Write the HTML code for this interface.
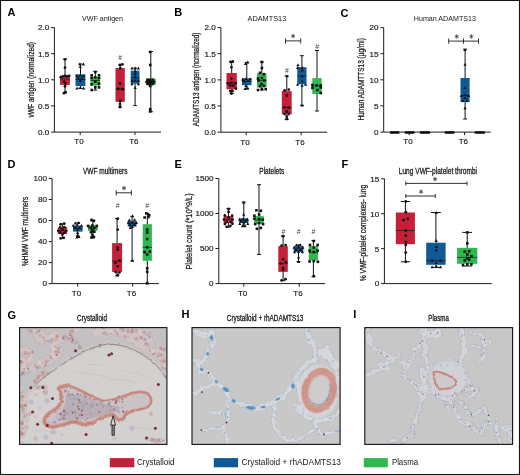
<!DOCTYPE html>
<html><head><meta charset="utf-8"><title>Figure</title>
<style>html,body{margin:0;padding:0;background:#fff;overflow:hidden}svg{display:block}</style>
</head><body>
<svg width="520" height="475" viewBox="0 0 520 475" font-family="'Liberation Sans', sans-serif" fill="#161616">
<rect x="0" y="0" width="520" height="475" fill="#fff"/>
<defs><filter id="idt" filterUnits="userSpaceOnUse" x="0" y="0" width="520" height="475" color-interpolation-filters="sRGB"><feOffset dx="0" dy="0"/></filter></defs>
<g filter="url(#idt)">
<text x="7.6" y="16.4" font-size="11" font-weight="bold" fill="#000">A</text>
<text x="82" y="21.2" font-size="7.2" textLength="41.0" lengthAdjust="spacingAndGlyphs">VWF antigen</text>
<text transform="translate(33.6,117.5) rotate(-90)" font-size="8.6" textLength="75.5" lengthAdjust="spacingAndGlyphs" stroke="#1c1c1c" stroke-width="0.25">vWF antigen (normalized)</text>
<path d="M54.4 27.5V132.1H161M51.1 27.6H54.4M51.1 53.7H54.4M51.1 79.8H54.4M51.1 105.9H54.4M51.1 132.1H54.4M80.2 132.1v3M135.0 132.1v3" stroke="#1c1c1c" stroke-width="1" fill="none"/>
<text x="49.2" y="30.4" text-anchor="end" font-size="8.1" stroke="#1c1c1c" stroke-width="0.18">2.0</text>
<text x="49.2" y="56.5" text-anchor="end" font-size="8.1" stroke="#1c1c1c" stroke-width="0.18">1.5</text>
<text x="49.2" y="82.6" text-anchor="end" font-size="8.1" stroke="#1c1c1c" stroke-width="0.18">1.0</text>
<text x="49.2" y="108.7" text-anchor="end" font-size="8.1" stroke="#1c1c1c" stroke-width="0.18">0.5</text>
<text x="49.2" y="134.9" text-anchor="end" font-size="8.1" stroke="#1c1c1c" stroke-width="0.18">0.0</text>
<text x="79.0" y="144.4" text-anchor="middle" font-size="8" stroke="#1c1c1c" stroke-width="0.15">T0</text>
<text x="133.8" y="144.4" text-anchor="middle" font-size="8" stroke="#1c1c1c" stroke-width="0.15">T6</text>
<rect x="60.0" y="75.8" width="9.9" height="9.1" fill="#c5203a"/><path d="M65.0 59.2V75.8M65.0 84.9V93.0M62.9 59.2H67.0M62.9 93.0H67.0" stroke="#111" stroke-width="1" fill="none"/><path d="M60.0 79.0H69.9" stroke="#1a1a1a" stroke-width="0.7" fill="none"/><g fill="#111"><circle cx="65.0" cy="59.3" r="1.38"/><circle cx="65.0" cy="67.7" r="1.38"/><circle cx="60.8" cy="77.2" r="1.38"/><circle cx="62.9" cy="76.3" r="1.38"/><circle cx="65.0" cy="75.8" r="1.38"/><circle cx="67.1" cy="76.3" r="1.38"/><circle cx="69.2" cy="75.8" r="1.38"/><circle cx="64.0" cy="81.6" r="1.38"/><circle cx="65.6" cy="83.7" r="1.38"/><circle cx="65.0" cy="86.3" r="1.38"/><circle cx="65.6" cy="92.1" r="1.38"/><circle cx="64.0" cy="93.2" r="1.38"/></g>
<rect x="75.5" y="74.3" width="9.9" height="11.7" fill="#0f5a96"/><path d="M80.5 64.0V74.3M80.5 86.0V88.3M78.4 64.0H82.5M78.4 88.3H82.5" stroke="#111" stroke-width="1" fill="none"/><path d="M75.5 79.5H85.4" stroke="#1a1a1a" stroke-width="0.7" fill="none"/><g fill="#111"><path d="M79.9 62.6L81.5 65.5L78.3 65.5Z"/><path d="M83.4 62.6L85.0 65.5L81.8 65.5Z"/><path d="M80.3 65.2L81.9 68.1L78.7 68.1Z"/><path d="M77.0 74.2L78.6 77.1L75.4 77.1Z"/><path d="M80.3 73.7L81.9 76.6L78.7 76.6Z"/><path d="M83.6 74.2L85.2 77.1L82.0 77.1Z"/><path d="M78.4 76.6L80.0 79.5L76.8 79.5Z"/><path d="M82.0 76.8L83.6 79.7L80.4 79.7Z"/><path d="M80.3 79.2L81.9 82.1L78.7 82.1Z"/><path d="M77.0 86.6L78.6 89.5L75.4 89.5Z"/><path d="M80.3 86.2L81.9 89.1L78.7 89.1Z"/><path d="M83.6 86.6L85.2 89.5L82.0 89.5Z"/></g>
<rect x="90.5" y="76.8" width="9.6" height="8.9" fill="#2fb84f"/><path d="M95.3 71.4V76.8M95.3 85.7V90.1M93.3 71.4H97.3M93.3 90.1H97.3" stroke="#111" stroke-width="1" fill="none"/><path d="M90.5 80.5H100.1" stroke="#1a1a1a" stroke-width="0.7" fill="none"/><g fill="#111"><rect x="94.0" y="70.8" width="2.6" height="2.6"/><rect x="90.4" y="74.0" width="2.6" height="2.6"/><rect x="97.7" y="74.0" width="2.6" height="2.6"/><rect x="90.4" y="76.7" width="2.6" height="2.6"/><rect x="94.0" y="76.1" width="2.6" height="2.6"/><rect x="97.7" y="76.7" width="2.6" height="2.6"/><rect x="94.0" y="80.3" width="2.6" height="2.6"/><rect x="90.4" y="82.9" width="2.6" height="2.6"/><rect x="97.7" y="82.4" width="2.6" height="2.6"/><rect x="94.0" y="86.1" width="2.6" height="2.6"/><rect x="97.7" y="86.1" width="2.6" height="2.6"/><rect x="90.4" y="88.7" width="2.6" height="2.6"/></g>
<rect x="115.5" y="68.0" width="9.3" height="33.9" fill="#c5203a"/><path d="M120.2 65.0V68.0M120.2 101.9V107.0M118.2 65.0H122.1M118.2 107.0H122.1" stroke="#111" stroke-width="1" fill="none"/><path d="M115.5 89.0H124.8" stroke="#1a1a1a" stroke-width="0.7" fill="none"/><g fill="#111"><circle cx="120.0" cy="65.0" r="1.38"/><circle cx="122.4" cy="64.3" r="1.38"/><circle cx="120.2" cy="68.3" r="1.38"/><circle cx="120.0" cy="83.6" r="1.38"/><circle cx="118.1" cy="89.0" r="1.38"/><circle cx="122.5" cy="89.2" r="1.38"/><circle cx="120.3" cy="101.0" r="1.38"/><circle cx="120.0" cy="104.0" r="1.38"/><circle cx="120.0" cy="107.0" r="1.38"/></g>
<rect x="130.7" y="70.7" width="8.8" height="13.1" fill="#0f5a96"/><path d="M135.1 68.0V70.7M135.1 83.8V105.6M133.3 68.0H136.9M133.3 105.6H136.9" stroke="#111" stroke-width="1" fill="none"/><path d="M130.7 78.0H139.5" stroke="#1a1a1a" stroke-width="0.7" fill="none"/><g fill="#111"><path d="M132.0 66.6L133.6 69.5L130.4 69.5Z"/><path d="M135.2 66.6L136.8 69.5L133.6 69.5Z"/><path d="M138.4 66.6L140.0 69.5L136.8 69.5Z"/><path d="M135.2 69.6L136.8 72.5L133.6 72.5Z"/><path d="M135.2 72.2L136.8 75.1L133.6 75.1Z"/><path d="M135.2 75.1L136.8 78.0L133.6 78.0Z"/><path d="M132.0 78.8L133.6 81.7L130.4 81.7Z"/><path d="M135.2 78.8L136.8 81.7L133.6 81.7Z"/><path d="M138.4 78.8L140.0 81.7L136.8 81.7Z"/><path d="M132.0 82.4L133.6 85.3L130.4 85.3Z"/><path d="M138.4 82.4L140.0 85.3L136.8 85.3Z"/><path d="M135.2 86.2L136.8 89.1L133.6 89.1Z"/></g>
<rect x="146.0" y="78.6" width="9.7" height="6.4" fill="#2fb84f"/><path d="M150.8 51.5V78.6M150.8 85.0V111.7M148.8 51.5H152.9M148.8 111.7H152.9" stroke="#111" stroke-width="1" fill="none"/><path d="M146.0 81.5H155.7" stroke="#1a1a1a" stroke-width="0.7" fill="none"/><g fill="#111"><rect x="148.9" y="50.7" width="2.6" height="2.6"/><rect x="148.9" y="63.7" width="2.6" height="2.6"/><rect x="146.3" y="78.5" width="2.6" height="2.6"/><rect x="148.9" y="78.5" width="2.6" height="2.6"/><rect x="151.5" y="78.5" width="2.6" height="2.6"/><rect x="145.3" y="80.7" width="2.6" height="2.6"/><rect x="147.7" y="80.7" width="2.6" height="2.6"/><rect x="150.1" y="80.7" width="2.6" height="2.6"/><rect x="152.5" y="80.7" width="2.6" height="2.6"/><rect x="146.5" y="82.7" width="2.6" height="2.6"/><rect x="148.9" y="82.7" width="2.6" height="2.6"/><rect x="151.3" y="82.7" width="2.6" height="2.6"/><rect x="148.9" y="84.7" width="2.6" height="2.6"/><rect x="148.9" y="107.9" width="2.6" height="2.6"/><rect x="148.9" y="110.1" width="2.6" height="2.6"/></g>
<text x="120.0" y="60.4" text-anchor="middle" font-size="6.6" font-style="italic" fill="#3a3a3a">#</text>
<text x="174.3" y="16.4" font-size="11" font-weight="bold" fill="#000">B</text>
<text x="247.5" y="20.8" font-size="7.2" textLength="38.8" lengthAdjust="spacingAndGlyphs">ADAMTS13</text>
<text transform="translate(198.6,126.2) rotate(-90)" font-size="8.6" textLength="93.6" lengthAdjust="spacingAndGlyphs" stroke="#1c1c1c" stroke-width="0.25">ADAMTS13 antigen (normalized)</text>
<path d="M220.9 27.5V132.2H327.2M217.6 27.6H220.9M217.6 53.7H220.9M217.6 79.9H220.9M217.6 106.0H220.9M217.6 132.2H220.9M246.2 132.2v3M301.2 132.2v3" stroke="#1c1c1c" stroke-width="1" fill="none"/>
<text x="215.7" y="30.4" text-anchor="end" font-size="8.1" stroke="#1c1c1c" stroke-width="0.18">2.0</text>
<text x="215.7" y="56.5" text-anchor="end" font-size="8.1" stroke="#1c1c1c" stroke-width="0.18">1.5</text>
<text x="215.7" y="82.7" text-anchor="end" font-size="8.1" stroke="#1c1c1c" stroke-width="0.18">1.0</text>
<text x="215.7" y="108.8" text-anchor="end" font-size="8.1" stroke="#1c1c1c" stroke-width="0.18">0.5</text>
<text x="215.7" y="135.0" text-anchor="end" font-size="8.1" stroke="#1c1c1c" stroke-width="0.18">0.0</text>
<text x="245.0" y="144.5" text-anchor="middle" font-size="8" stroke="#1c1c1c" stroke-width="0.15">T0</text>
<text x="300.0" y="144.5" text-anchor="middle" font-size="8" stroke="#1c1c1c" stroke-width="0.15">T6</text>
<rect x="226.5" y="73.0" width="10.3" height="16.2" fill="#c5203a"/><path d="M231.7 62.0V73.0M231.7 89.2V93.6M229.5 62.0H233.8M229.5 93.6H233.8" stroke="#111" stroke-width="1" fill="none"/><path d="M226.5 82.5H236.8" stroke="#1a1a1a" stroke-width="0.7" fill="none"/><g fill="#111"><circle cx="230.5" cy="61.9" r="1.38"/><circle cx="232.8" cy="61.5" r="1.38"/><circle cx="231.4" cy="67.3" r="1.38"/><circle cx="231.4" cy="78.6" r="1.38"/><circle cx="227.8" cy="83.4" r="1.38"/><circle cx="231.4" cy="82.9" r="1.38"/><circle cx="235.5" cy="83.4" r="1.38"/><circle cx="230.2" cy="85.6" r="1.38"/><circle cx="233.1" cy="85.6" r="1.38"/><circle cx="235.9" cy="88.7" r="1.38"/><circle cx="230.2" cy="91.0" r="1.38"/><circle cx="232.6" cy="90.8" r="1.38"/><circle cx="231.4" cy="93.5" r="1.38"/></g>
<rect x="242.0" y="78.2" width="9.5" height="7.0" fill="#0f5a96"/><path d="M246.8 62.4V78.2M246.8 85.2V88.9M244.8 62.4H248.7M244.8 88.9H248.7" stroke="#111" stroke-width="1" fill="none"/><path d="M242.0 81.5H251.5" stroke="#1a1a1a" stroke-width="0.7" fill="none"/><g fill="#111"><path d="M245.6 62.0L247.2 64.9L244.0 64.9Z"/><path d="M247.8 60.6L249.4 63.5L246.2 63.5Z"/><path d="M242.7 77.8L244.3 80.7L241.1 80.7Z"/><path d="M246.0 77.0L247.6 79.9L244.4 79.9Z"/><path d="M250.4 77.4L252.0 80.3L248.8 80.3Z"/><path d="M244.3 79.4L245.9 82.3L242.7 82.3Z"/><path d="M248.0 79.2L249.6 82.1L246.4 82.1Z"/><path d="M246.0 84.0L247.6 86.9L244.4 86.9Z"/><path d="M245.1 87.1L246.7 90.0L243.5 90.0Z"/><path d="M247.8 86.6L249.4 89.5L246.2 89.5Z"/></g>
<rect x="257.0" y="73.3" width="9.6" height="14.1" fill="#2fb84f"/><path d="M261.8 62.0V73.3M261.8 87.4V89.9M259.8 62.0H263.8M259.8 89.9H263.8" stroke="#111" stroke-width="1" fill="none"/><path d="M257.0 80.5H266.6" stroke="#1a1a1a" stroke-width="0.7" fill="none"/><g fill="#111"><rect x="260.6" y="60.7" width="2.6" height="2.6"/><rect x="260.6" y="66.7" width="2.6" height="2.6"/><rect x="258.7" y="71.5" width="2.6" height="2.6"/><rect x="262.5" y="72.9" width="2.6" height="2.6"/><rect x="256.7" y="77.3" width="2.6" height="2.6"/><rect x="260.6" y="76.7" width="2.6" height="2.6"/><rect x="257.2" y="79.2" width="2.6" height="2.6"/><rect x="263.0" y="79.2" width="2.6" height="2.6"/><rect x="260.1" y="82.5" width="2.6" height="2.6"/><rect x="258.7" y="84.9" width="2.6" height="2.6"/><rect x="262.5" y="84.5" width="2.6" height="2.6"/><rect x="256.7" y="88.7" width="2.6" height="2.6"/><rect x="260.6" y="87.9" width="2.6" height="2.6"/><rect x="264.4" y="87.9" width="2.6" height="2.6"/></g>
<rect x="281.8" y="91.1" width="9.9" height="23.1" fill="#c5203a"/><path d="M286.8 76.2V91.1M286.8 114.2V119.4M284.7 76.2H288.8M284.7 119.4H288.8" stroke="#111" stroke-width="1" fill="none"/><path d="M281.8 107.6H291.7" stroke="#1a1a1a" stroke-width="0.7" fill="none"/><g fill="#111"><circle cx="286.8" cy="76.2" r="1.38"/><circle cx="284.6" cy="90.4" r="1.38"/><circle cx="288.8" cy="89.6" r="1.38"/><circle cx="286.8" cy="95.5" r="1.38"/><circle cx="284.6" cy="107.3" r="1.38"/><circle cx="288.8" cy="107.6" r="1.38"/><circle cx="286.8" cy="111.5" r="1.38"/><circle cx="284.6" cy="114.0" r="1.38"/><circle cx="288.8" cy="114.0" r="1.38"/><circle cx="286.8" cy="116.6" r="1.38"/><circle cx="286.8" cy="119.0" r="1.38"/></g>
<rect x="297.3" y="67.2" width="9.2" height="17.1" fill="#0f5a96"/><path d="M301.9 55.7V67.2M301.9 84.3V105.4M300.0 55.7H303.8M300.0 105.4H303.8" stroke="#111" stroke-width="1" fill="none"/><path d="M297.3 76.0H306.5" stroke="#1a1a1a" stroke-width="0.7" fill="none"/><g fill="#111"><path d="M298.0 63.3L299.6 66.2L296.4 66.2Z"/><path d="M297.6 66.1L299.2 69.0L296.0 69.0Z"/><path d="M302.2 66.1L303.8 69.0L300.6 69.0Z"/><path d="M302.2 68.7L303.8 71.6L300.6 71.6Z"/><path d="M302.2 74.4L303.8 77.3L300.6 77.3Z"/><path d="M302.2 79.4L303.8 82.3L300.6 82.3Z"/><path d="M297.6 82.9L299.2 85.8L296.0 85.8Z"/><path d="M305.6 82.9L307.2 85.8L304.0 85.8Z"/><path d="M302.2 83.9L303.8 86.8L300.6 86.8Z"/><path d="M302.2 103.7L303.8 106.6L300.6 106.6Z"/></g>
<rect x="312.3" y="78.1" width="9.3" height="15.9" fill="#2fb84f"/><path d="M317.0 50.5V78.1M317.0 94.0V111.0M315.0 50.5H318.9M315.0 111.0H318.9" stroke="#111" stroke-width="1" fill="none"/><path d="M312.3 86.0H321.6" stroke="#1a1a1a" stroke-width="0.7" fill="none"/><g fill="#111"><rect x="311.1" y="83.7" width="2.6" height="2.6"/><rect x="315.3" y="84.1" width="2.6" height="2.6"/><rect x="319.5" y="84.1" width="2.6" height="2.6"/><rect x="311.1" y="86.6" width="2.6" height="2.6"/><rect x="319.5" y="86.1" width="2.6" height="2.6"/><rect x="316.1" y="88.8" width="2.6" height="2.6"/><rect x="319.5" y="91.7" width="2.6" height="2.6"/></g>
<path d="M285.5 40.9H300.7M285.5 38.3v5.2M300.7 38.3v5.2" stroke="#1c1c1c" stroke-width="0.9" fill="none"/>
<path d="M293.10 33.85L293.10 38.35M291.15 34.98L295.05 37.23M295.05 34.98L291.15 37.23" stroke="#2a2a2a" stroke-width="0.75" fill="none"/>
<text x="286.8" y="73.1" text-anchor="middle" font-size="6.6" font-style="italic" fill="#3a3a3a">#</text>
<text x="317.0" y="48.5" text-anchor="middle" font-size="6.6" font-style="italic" fill="#3a3a3a">#</text>
<text x="340.4" y="16.6" font-size="11" font-weight="bold" fill="#000">C</text>
<text x="413.8" y="20.6" font-size="7.2" textLength="62.2" lengthAdjust="spacingAndGlyphs">Human ADAMTS13</text>
<text transform="translate(364.2,120.6) rotate(-90)" font-size="8.6" textLength="82.4" lengthAdjust="spacingAndGlyphs" stroke="#1c1c1c" stroke-width="0.25">Human ADAMTTS13 (µg/ml)</text>
<path d="M383.7 27.5V132.1H490.7M380.4 27.6H383.7M380.4 53.7H383.7M380.4 79.8H383.7M380.4 105.9H383.7M380.4 132.1H383.7M409.2 132.1v3M464.5 132.1v3" stroke="#1c1c1c" stroke-width="1" fill="none"/>
<text x="378.5" y="30.4" text-anchor="end" font-size="8.1" stroke="#1c1c1c" stroke-width="0.18">20</text>
<text x="378.5" y="56.5" text-anchor="end" font-size="8.1" stroke="#1c1c1c" stroke-width="0.18">15</text>
<text x="378.5" y="82.6" text-anchor="end" font-size="8.1" stroke="#1c1c1c" stroke-width="0.18">10</text>
<text x="378.5" y="108.7" text-anchor="end" font-size="8.1" stroke="#1c1c1c" stroke-width="0.18">5</text>
<text x="378.5" y="134.9" text-anchor="end" font-size="8.1" stroke="#1c1c1c" stroke-width="0.18">0</text>
<text x="408.0" y="144.4" text-anchor="middle" font-size="8" stroke="#1c1c1c" stroke-width="0.15">T0</text>
<text x="463.3" y="144.4" text-anchor="middle" font-size="8" stroke="#1c1c1c" stroke-width="0.15">T6</text>
<rect x="389.9" y="131.3" width="9.6" height="2.4" rx="1" fill="#0a0a0a"/>
<rect x="404.6" y="131.3" width="10.1" height="2.4" rx="1" fill="#0a0a0a"/>
<rect x="419.7" y="131.3" width="10.4" height="2.4" rx="1" fill="#0a0a0a"/>
<rect x="444.6" y="131.3" width="10.0" height="2.4" rx="1" fill="#0a0a0a"/>
<rect x="474.5" y="131.3" width="10.6" height="2.4" rx="1" fill="#0a0a0a"/>
<rect x="460.5" y="78.0" width="9.1" height="24.1" fill="#0f5a96"/><path d="M465.1 49.2V78.0M465.1 102.1V119.0M463.1 49.2H467.0M463.1 119.0H467.0" stroke="#111" stroke-width="1" fill="none"/><path d="M460.5 95.5H469.6" stroke="#1a1a1a" stroke-width="0.7" fill="none"/><g fill="#111"><path d="M465.0 48.2L466.6 51.1L463.4 51.1Z"/><path d="M465.0 62.9L466.6 65.8L463.4 65.8Z"/><path d="M465.0 86.2L466.6 89.1L463.4 89.1Z"/><path d="M461.6 94.2L463.2 97.1L460.0 97.1Z"/><path d="M465.0 93.2L466.6 96.1L463.4 96.1Z"/><path d="M468.6 94.2L470.2 97.1L467.0 97.1Z"/><path d="M465.0 96.0L466.6 98.9L463.4 98.9Z"/><path d="M463.0 99.0L464.6 101.9L461.4 101.9Z"/><path d="M466.8 99.0L468.4 101.9L465.2 101.9Z"/><path d="M465.0 106.4L466.6 109.3L463.4 109.3Z"/></g>
<path d="M448.7 41.1H478.5M448.7 38.5v5.2M478.5 38.5v5.2M463.5 38.5v5.2" stroke="#1c1c1c" stroke-width="0.9" fill="none"/>
<path d="M456.70 34.25L456.70 38.75M454.75 35.38L458.65 37.62M458.65 35.38L454.75 37.62" stroke="#2a2a2a" stroke-width="0.75" fill="none"/>
<path d="M471.40 34.25L471.40 38.75M469.45 35.38L473.35 37.62M473.35 35.38L469.45 37.62" stroke="#2a2a2a" stroke-width="0.75" fill="none"/>
<text x="7.6" y="167.6" font-size="11" font-weight="bold" fill="#000">D</text>
<text x="83.0" y="174.2" font-size="9" textLength="44.5" lengthAdjust="spacingAndGlyphs" stroke="#1c1c1c" stroke-width="0.3">VWF multimers</text>
<text transform="translate(28.2,266.2) rotate(-90)" font-size="8.6" textLength="69.4" lengthAdjust="spacingAndGlyphs" stroke="#1c1c1c" stroke-width="0.25">%HMW VWF multimers</text>
<path d="M52.1 178.5V283.6H158.9M48.8 178.5H52.1M48.8 199.5H52.1M48.8 220.5H52.1M48.8 241.6H52.1M48.8 262.6H52.1M48.8 283.6H52.1M77.7 283.6v3M132.7 283.6v3" stroke="#1c1c1c" stroke-width="1" fill="none"/>
<text x="46.9" y="181.3" text-anchor="end" font-size="8.1" stroke="#1c1c1c" stroke-width="0.18">100</text>
<text x="46.9" y="202.3" text-anchor="end" font-size="8.1" stroke="#1c1c1c" stroke-width="0.18">80</text>
<text x="46.9" y="223.3" text-anchor="end" font-size="8.1" stroke="#1c1c1c" stroke-width="0.18">60</text>
<text x="46.9" y="244.4" text-anchor="end" font-size="8.1" stroke="#1c1c1c" stroke-width="0.18">40</text>
<text x="46.9" y="265.4" text-anchor="end" font-size="8.1" stroke="#1c1c1c" stroke-width="0.18">20</text>
<text x="46.9" y="286.4" text-anchor="end" font-size="8.1" stroke="#1c1c1c" stroke-width="0.18">0</text>
<text x="76.5" y="295.9" text-anchor="middle" font-size="8" stroke="#1c1c1c" stroke-width="0.15">T0</text>
<text x="131.5" y="295.9" text-anchor="middle" font-size="8" stroke="#1c1c1c" stroke-width="0.15">T6</text>
<rect x="57.8" y="227.2" width="9.3" height="6.9" fill="#c5203a"/><path d="M62.4 223.8V227.2M62.4 234.1V238.5M60.5 223.8H64.4M60.5 238.5H64.4" stroke="#111" stroke-width="1" fill="none"/><path d="M57.8 230.5H67.1" stroke="#1a1a1a" stroke-width="0.7" fill="none"/><g fill="#111"><circle cx="60.5" cy="224.3" r="1.38"/><circle cx="64.3" cy="223.7" r="1.38"/><circle cx="60.2" cy="227.4" r="1.38"/><circle cx="64.3" cy="227.2" r="1.38"/><circle cx="62.4" cy="229.3" r="1.38"/><circle cx="58.3" cy="230.8" r="1.38"/><circle cx="66.3" cy="230.8" r="1.38"/><circle cx="60.2" cy="232.7" r="1.38"/><circle cx="64.3" cy="232.7" r="1.38"/><circle cx="62.4" cy="234.6" r="1.38"/><circle cx="60.7" cy="238.4" r="1.38"/><circle cx="63.8" cy="237.8" r="1.38"/></g>
<rect x="73.0" y="225.7" width="9.6" height="5.9" fill="#0f5a96"/><path d="M77.8 222.8V225.7M77.8 231.6V236.3M75.8 222.8H79.8M75.8 236.3H79.8" stroke="#111" stroke-width="1" fill="none"/><path d="M73.0 228.5H82.6" stroke="#1a1a1a" stroke-width="0.7" fill="none"/><g fill="#111"><path d="M75.3 221.5L76.9 224.4L73.7 224.4Z"/><path d="M78.8 221.0L80.4 223.9L77.2 223.9Z"/><path d="M73.2 223.9L74.8 226.8L71.6 226.8Z"/><path d="M77.0 223.4L78.6 226.3L75.4 226.3Z"/><path d="M81.4 223.9L83.0 226.8L79.8 226.8Z"/><path d="M75.1 225.8L76.7 228.7L73.5 228.7Z"/><path d="M79.4 225.8L81.0 228.7L77.8 228.7Z"/><path d="M77.5 228.2L79.1 231.1L75.9 231.1Z"/><path d="M77.5 231.1L79.1 234.0L75.9 234.0Z"/><path d="M77.5 233.4L79.1 236.3L75.9 236.3Z"/><path d="M77.0 235.6L78.6 238.5L75.4 238.5Z"/><path d="M79.0 235.2L80.6 238.1L77.4 238.1Z"/></g>
<rect x="88.0" y="225.3" width="9.6" height="5.6" fill="#2fb84f"/><path d="M92.8 220.8V225.3M92.8 230.9V237.8M90.8 220.8H94.8M90.8 237.8H94.8" stroke="#111" stroke-width="1" fill="none"/><path d="M88.0 228.0H97.6" stroke="#1a1a1a" stroke-width="0.7" fill="none"/><g fill="#111"><rect x="90.2" y="218.6" width="2.6" height="2.6"/><rect x="92.6" y="219.5" width="2.6" height="2.6"/><rect x="86.8" y="224.6" width="2.6" height="2.6"/><rect x="91.1" y="224.2" width="2.6" height="2.6"/><rect x="95.5" y="224.6" width="2.6" height="2.6"/><rect x="89.7" y="226.6" width="2.6" height="2.6"/><rect x="93.0" y="226.6" width="2.6" height="2.6"/><rect x="91.1" y="229.0" width="2.6" height="2.6"/><rect x="89.7" y="230.9" width="2.6" height="2.6"/><rect x="93.0" y="230.4" width="2.6" height="2.6"/><rect x="91.1" y="233.7" width="2.6" height="2.6"/><rect x="90.2" y="236.2" width="2.6" height="2.6"/><rect x="92.6" y="235.7" width="2.6" height="2.6"/></g>
<rect x="112.1" y="243.1" width="10.0" height="28.8" fill="#c5203a"/><path d="M117.1 218.6V243.1M117.1 271.9V275.8M115.0 218.6H119.2M115.0 275.8H119.2" stroke="#111" stroke-width="1" fill="none"/><path d="M112.1 261.1H122.1" stroke="#1a1a1a" stroke-width="0.7" fill="none"/><g fill="#111"><circle cx="117.7" cy="218.7" r="1.38"/><circle cx="117.7" cy="229.6" r="1.38"/><circle cx="117.7" cy="247.3" r="1.38"/><circle cx="117.7" cy="249.7" r="1.38"/><circle cx="115.3" cy="262.8" r="1.38"/><circle cx="119.4" cy="260.6" r="1.38"/><circle cx="117.7" cy="266.3" r="1.38"/><circle cx="115.6" cy="272.1" r="1.38"/><circle cx="119.4" cy="272.6" r="1.38"/><circle cx="117.7" cy="275.2" r="1.38"/></g>
<rect x="127.7" y="220.8" width="8.8" height="5.9" fill="#0f5a96"/><path d="M132.1 216.4V220.8M132.1 226.7V260.8M130.3 216.4H133.9M130.3 260.8H133.9" stroke="#111" stroke-width="1" fill="none"/><path d="M127.7 223.5H136.5" stroke="#1a1a1a" stroke-width="0.7" fill="none"/><g fill="#111"><path d="M132.5 214.3L134.1 217.2L130.9 217.2Z"/><path d="M129.4 218.4L131.0 221.3L127.8 221.3Z"/><path d="M134.5 217.9L136.1 220.8L132.9 220.8Z"/><path d="M128.3 220.9L129.9 223.8L126.7 223.8Z"/><path d="M132.2 220.4L133.8 223.3L130.6 223.3Z"/><path d="M136.4 221.0L138.0 223.9L134.8 223.9Z"/><path d="M130.2 223.0L131.8 225.9L128.6 225.9Z"/><path d="M134.4 223.0L136.0 225.9L132.8 225.9Z"/><path d="M132.3 225.0L133.9 227.9L130.7 227.9Z"/><path d="M130.4 226.0L132.0 228.9L128.8 228.9Z"/><path d="M132.5 258.9L134.1 261.8L130.9 261.8Z"/></g>
<rect x="142.7" y="224.2" width="9.2" height="36.6" fill="#2fb84f"/><path d="M147.3 213.5V224.2M147.3 260.8V283.6M145.4 213.5H149.2M145.4 283.6H149.2" stroke="#111" stroke-width="1" fill="none"/><path d="M142.7 247.4H151.9" stroke="#1a1a1a" stroke-width="0.7" fill="none"/><g fill="#111"><rect x="145.0" y="212.0" width="2.6" height="2.6"/><rect x="147.9" y="213.9" width="2.6" height="2.6"/><rect x="143.3" y="216.2" width="2.6" height="2.6"/><rect x="147.1" y="215.7" width="2.6" height="2.6"/><rect x="145.9" y="228.3" width="2.6" height="2.6"/><rect x="145.9" y="231.2" width="2.6" height="2.6"/><rect x="145.9" y="237.7" width="2.6" height="2.6"/><rect x="145.9" y="246.0" width="2.6" height="2.6"/><rect x="143.3" y="250.7" width="2.6" height="2.6"/><rect x="148.5" y="250.2" width="2.6" height="2.6"/><rect x="145.9" y="253.2" width="2.6" height="2.6"/><rect x="145.9" y="267.0" width="2.6" height="2.6"/><rect x="145.9" y="270.5" width="2.6" height="2.6"/><rect x="145.9" y="281.9" width="2.6" height="2.6"/></g>
<path d="M116.2 192.8H131.4M116.2 190.2v5.2M131.4 190.2v5.2" stroke="#1c1c1c" stroke-width="0.9" fill="none"/>
<path d="M124.00 185.85L124.00 190.35M122.05 186.97L125.95 189.22M125.95 186.97L122.05 189.22" stroke="#2a2a2a" stroke-width="0.75" fill="none"/>
<text x="117.7" y="208.1" text-anchor="middle" font-size="6.6" font-style="italic" fill="#3a3a3a">#</text>
<text x="147.2" y="208.1" text-anchor="middle" font-size="6.6" font-style="italic" fill="#3a3a3a">#</text>
<text x="174.6" y="167.6" font-size="11" font-weight="bold" fill="#000">E</text>
<text x="259.3" y="174.2" font-size="9" textLength="25.0" lengthAdjust="spacingAndGlyphs" stroke="#1c1c1c" stroke-width="0.3">Platelets</text>
<text transform="translate(191.6,269.6) rotate(-90)" font-size="8.6" textLength="76.2" lengthAdjust="spacingAndGlyphs" stroke="#1c1c1c" stroke-width="0.25">Platelet count (*10^9/L)</text>
<path d="M218.8 178.5V283.6H325.1M215.5 178.5H218.8M215.5 213.5H218.8M215.5 248.5H218.8M215.5 283.6H218.8M243.8 283.6v3M299.2 283.6v3" stroke="#1c1c1c" stroke-width="1" fill="none"/>
<text x="213.6" y="181.3" text-anchor="end" font-size="8.1" stroke="#1c1c1c" stroke-width="0.18">1500</text>
<text x="213.6" y="216.3" text-anchor="end" font-size="8.1" stroke="#1c1c1c" stroke-width="0.18">1000</text>
<text x="213.6" y="251.3" text-anchor="end" font-size="8.1" stroke="#1c1c1c" stroke-width="0.18">500</text>
<text x="213.6" y="286.4" text-anchor="end" font-size="8.1" stroke="#1c1c1c" stroke-width="0.18">0</text>
<text x="242.6" y="295.9" text-anchor="middle" font-size="8" stroke="#1c1c1c" stroke-width="0.15">T0</text>
<text x="298.0" y="295.9" text-anchor="middle" font-size="8" stroke="#1c1c1c" stroke-width="0.15">T6</text>
<rect x="223.6" y="216.1" width="9.7" height="6.9" fill="#c5203a"/><path d="M228.4 208.6V216.1M228.4 223.0V227.2M226.4 208.6H230.5M226.4 227.2H230.5" stroke="#111" stroke-width="1" fill="none"/><path d="M223.6 219.5H233.3" stroke="#1a1a1a" stroke-width="0.7" fill="none"/><g fill="#111"><circle cx="228.6" cy="209.0" r="1.38"/><circle cx="228.6" cy="212.0" r="1.38"/><circle cx="224.9" cy="215.4" r="1.38"/><circle cx="232.1" cy="215.7" r="1.38"/><circle cx="228.6" cy="217.4" r="1.38"/><circle cx="224.0" cy="219.6" r="1.38"/><circle cx="232.5" cy="219.6" r="1.38"/><circle cx="226.6" cy="222.0" r="1.38"/><circle cx="230.8" cy="222.0" r="1.38"/><circle cx="224.9" cy="224.1" r="1.38"/><circle cx="232.5" cy="223.8" r="1.38"/><circle cx="226.6" cy="226.8" r="1.38"/><circle cx="230.4" cy="225.8" r="1.38"/></g>
<rect x="239.2" y="218.3" width="9.1" height="4.7" fill="#0f5a96"/><path d="M243.8 202.0V218.3M243.8 223.0V226.0M241.8 202.0H245.7M241.8 226.0H245.7" stroke="#111" stroke-width="1" fill="none"/><path d="M239.2 220.5H248.3" stroke="#1a1a1a" stroke-width="0.7" fill="none"/><g fill="#111"><path d="M243.7 200.8L245.3 203.7L242.1 203.7Z"/><path d="M243.7 212.9L245.3 215.8L242.1 215.8Z"/><path d="M239.6 217.8L241.2 220.7L238.0 220.7Z"/><path d="M243.2 217.2L244.8 220.1L241.6 220.1Z"/><path d="M247.3 217.8L248.9 220.7L245.7 220.7Z"/><path d="M241.4 219.8L243.0 222.7L239.8 222.7Z"/><path d="M245.4 219.8L247.0 222.7L243.8 222.7Z"/><path d="M239.8 222.0L241.4 224.9L238.2 224.9Z"/><path d="M243.7 221.6L245.3 224.5L242.1 224.5Z"/><path d="M247.8 222.0L249.4 224.9L246.2 224.9Z"/><path d="M242.6 224.3L244.2 227.2L241.0 227.2Z"/><path d="M245.1 224.3L246.7 227.2L243.5 227.2Z"/></g>
<rect x="254.2" y="216.1" width="9.6" height="8.1" fill="#2fb84f"/><path d="M259.0 184.7V216.1M259.0 224.2V254.4M257.0 184.7H261.0M257.0 254.4H261.0" stroke="#111" stroke-width="1" fill="none"/><path d="M254.2 220.0H263.8" stroke="#1a1a1a" stroke-width="0.7" fill="none"/><g fill="#111"><rect x="255.1" y="209.0" width="2.6" height="2.6"/><rect x="259.5" y="209.5" width="2.6" height="2.6"/><rect x="253.1" y="214.4" width="2.6" height="2.6"/><rect x="257.8" y="213.2" width="2.6" height="2.6"/><rect x="253.1" y="217.4" width="2.6" height="2.6"/><rect x="257.8" y="217.7" width="2.6" height="2.6"/><rect x="261.5" y="218.3" width="2.6" height="2.6"/><rect x="257.8" y="221.7" width="2.6" height="2.6"/><rect x="253.9" y="222.8" width="2.6" height="2.6"/><rect x="261.8" y="222.8" width="2.6" height="2.6"/><rect x="255.6" y="227.5" width="2.6" height="2.6"/><rect x="259.5" y="226.7" width="2.6" height="2.6"/></g>
<rect x="278.3" y="246.1" width="9.5" height="25.8" fill="#c5203a"/><path d="M283.1 236.0V246.1M283.1 271.9V280.7M281.1 236.0H285.0M281.1 280.7H285.0" stroke="#111" stroke-width="1" fill="none"/><path d="M278.3 263.6H287.8" stroke="#1a1a1a" stroke-width="0.7" fill="none"/><g fill="#111"><circle cx="283.1" cy="236.2" r="1.38"/><circle cx="281.6" cy="245.7" r="1.38"/><circle cx="285.6" cy="245.1" r="1.38"/><circle cx="283.1" cy="259.3" r="1.38"/><circle cx="280.9" cy="263.6" r="1.38"/><circle cx="286.0" cy="262.1" r="1.38"/><circle cx="283.1" cy="267.8" r="1.38"/><circle cx="283.1" cy="269.8" r="1.38"/><circle cx="281.6" cy="280.4" r="1.38"/><circle cx="285.6" cy="279.2" r="1.38"/></g>
<rect x="293.7" y="246.1" width="9.6" height="5.9" fill="#0f5a96"/><path d="M298.5 244.9V246.1M298.5 252.0V261.5M296.5 244.9H300.5M296.5 261.5H300.5" stroke="#111" stroke-width="1" fill="none"/><path d="M293.7 249.0H303.3" stroke="#1a1a1a" stroke-width="0.7" fill="none"/><g fill="#111"><path d="M296.4 243.4L298.0 246.3L294.8 246.3Z"/><path d="M300.2 243.2L301.8 246.1L298.6 246.1Z"/><path d="M294.2 245.8L295.8 248.7L292.6 248.7Z"/><path d="M298.4 245.4L300.0 248.3L296.8 248.3Z"/><path d="M302.8 245.8L304.4 248.7L301.2 248.7Z"/><path d="M296.2 248.0L297.8 250.9L294.6 250.9Z"/><path d="M300.6 248.0L302.2 250.9L299.0 250.9Z"/><path d="M294.6 250.4L296.2 253.3L293.0 253.3Z"/><path d="M298.6 250.0L300.2 252.9L297.0 252.9Z"/><path d="M302.4 250.4L304.0 253.3L300.8 253.3Z"/><path d="M298.6 255.7L300.2 258.6L297.0 258.6Z"/><path d="M298.6 260.0L300.2 262.9L297.0 262.9Z"/></g>
<rect x="308.8" y="246.1" width="9.2" height="14.3" fill="#2fb84f"/><path d="M313.4 240.5V246.1M313.4 260.4V276.6M311.5 240.5H315.3M311.5 276.6H315.3" stroke="#111" stroke-width="1" fill="none"/><path d="M308.8 252.5H318.0" stroke="#1a1a1a" stroke-width="0.7" fill="none"/><g fill="#111"><rect x="312.5" y="239.7" width="2.6" height="2.6"/><rect x="308.7" y="243.7" width="2.6" height="2.6"/><rect x="316.3" y="243.7" width="2.6" height="2.6"/><rect x="312.5" y="246.3" width="2.6" height="2.6"/><rect x="308.3" y="249.4" width="2.6" height="2.6"/><rect x="316.3" y="249.4" width="2.6" height="2.6"/><rect x="312.5" y="250.7" width="2.6" height="2.6"/><rect x="308.3" y="260.2" width="2.6" height="2.6"/><rect x="312.5" y="259.8" width="2.6" height="2.6"/><rect x="316.6" y="260.5" width="2.6" height="2.6"/><rect x="312.5" y="274.9" width="2.6" height="2.6"/></g>
<text x="283.4" y="234.0" text-anchor="middle" font-size="6.6" font-style="italic" fill="#3a3a3a">#</text>
<text x="298.6" y="234.0" text-anchor="middle" font-size="6.6" font-style="italic" fill="#3a3a3a">#</text>
<text x="313.3" y="234.0" text-anchor="middle" font-size="6.6" font-style="italic" fill="#3a3a3a">#</text>
<text x="341.4" y="167.6" font-size="11" font-weight="bold" fill="#000">F</text>
<text x="398.8" y="174.2" font-size="9" textLength="78.2" lengthAdjust="spacingAndGlyphs" stroke="#1c1c1c" stroke-width="0.3">Lung VWF-platelet thrombi</text>
<text transform="translate(365.8,281.2) rotate(-90)" font-size="8.6" textLength="96.4" lengthAdjust="spacingAndGlyphs" stroke="#1c1c1c" stroke-width="0.25">% VWF-platelet complexes- lung</text>
<path d="M384.4 178.7V283.6H491.8M381.1 178.8H384.4M381.1 213.7H384.4M381.1 248.7H384.4M381.1 283.6H384.4" stroke="#1c1c1c" stroke-width="1" fill="none"/>
<text x="379.2" y="181.6" text-anchor="end" font-size="8.1" stroke="#1c1c1c" stroke-width="0.18">15</text>
<text x="379.2" y="216.5" text-anchor="end" font-size="8.1" stroke="#1c1c1c" stroke-width="0.18">10</text>
<text x="379.2" y="251.5" text-anchor="end" font-size="8.1" stroke="#1c1c1c" stroke-width="0.18">5</text>
<text x="379.2" y="286.4" text-anchor="end" font-size="8.1" stroke="#1c1c1c" stroke-width="0.18">0</text>
<rect x="395.8" y="212.5" width="19.1" height="31.7" fill="#c5203a"/><path d="M405.4 201.5V212.5M405.4 244.2V261.8M400.8 201.5H410.0M400.8 261.8H410.0" stroke="#111" stroke-width="1" fill="none"/><path d="M395.8 230.5H414.9" stroke="#1a1a1a" stroke-width="0.7" fill="none"/><g fill="#111"><circle cx="405.8" cy="201.5" r="1.38"/><circle cx="405.8" cy="212.2" r="1.38"/><circle cx="403.6" cy="220.2" r="1.38"/><circle cx="407.6" cy="218.8" r="1.38"/><circle cx="405.8" cy="230.6" r="1.38"/><circle cx="405.8" cy="235.6" r="1.38"/><circle cx="405.8" cy="242.0" r="1.38"/><circle cx="405.8" cy="244.9" r="1.38"/><circle cx="405.8" cy="252.6" r="1.38"/><circle cx="405.8" cy="261.8" r="1.38"/></g>
<rect x="426.2" y="242.7" width="19.4" height="22.1" fill="#0f5a96"/><path d="M435.9 212.5V242.7M435.9 264.8V267.4M431.0 212.5H440.8M431.0 267.4H440.8" stroke="#111" stroke-width="1" fill="none"/><path d="M426.2 260.5H445.6" stroke="#1a1a1a" stroke-width="0.7" fill="none"/><g fill="#111"><path d="M436.3 211.0L437.9 213.9L434.7 213.9Z"/><path d="M436.3 239.0L437.9 241.9L434.7 241.9Z"/><path d="M436.3 245.2L437.9 248.1L434.7 248.1Z"/><path d="M436.3 248.4L437.9 251.3L434.7 251.3Z"/><path d="M432.1 258.8L433.7 261.7L430.5 261.7Z"/><path d="M440.5 258.8L442.1 261.7L438.9 261.7Z"/><path d="M436.3 261.0L437.9 263.9L434.7 263.9Z"/><path d="M432.1 265.4L433.7 268.3L430.5 268.3Z"/><path d="M436.3 264.8L437.9 267.7L434.7 267.7Z"/><path d="M440.5 265.4L442.1 268.3L438.9 268.3Z"/></g>
<rect x="457.1" y="247.8" width="20.2" height="16.0" fill="#2fb84f"/><path d="M467.2 232.4V247.8M467.2 263.8V266.0M462.3 232.4H472.1M462.3 266.0H472.1" stroke="#111" stroke-width="1" fill="none"/><path d="M457.1 257.4H477.3" stroke="#1a1a1a" stroke-width="0.7" fill="none"/><g fill="#111"><rect x="466.0" y="231.1" width="2.6" height="2.6"/><rect x="466.0" y="242.1" width="2.6" height="2.6"/><rect x="463.5" y="250.3" width="2.6" height="2.6"/><rect x="467.9" y="249.9" width="2.6" height="2.6"/><rect x="466.0" y="253.2" width="2.6" height="2.6"/><rect x="470.1" y="254.9" width="2.6" height="2.6"/><rect x="466.0" y="256.9" width="2.6" height="2.6"/><rect x="463.5" y="259.1" width="2.6" height="2.6"/><rect x="467.9" y="258.3" width="2.6" height="2.6"/><rect x="461.7" y="263.7" width="2.6" height="2.6"/><rect x="466.0" y="262.9" width="2.6" height="2.6"/><rect x="470.1" y="262.9" width="2.6" height="2.6"/></g>
<path d="M405.8 183.4H467.0M405.8 181.4v4.0M467.0 181.4v4.0" stroke="#1c1c1c" stroke-width="0.9" fill="none"/>
<path d="M435.00 176.85L435.00 181.35M433.05 177.97L436.95 180.22M436.95 177.97L433.05 180.22" stroke="#2a2a2a" stroke-width="0.75" fill="none"/>
<path d="M405.8 196.0H435.3M405.8 194.0v4.0M435.3 194.0v4.0" stroke="#1c1c1c" stroke-width="0.9" fill="none"/>
<path d="M421.10 189.45L421.10 193.95M419.15 190.57L423.05 192.82M423.05 190.57L419.15 192.82" stroke="#2a2a2a" stroke-width="0.75" fill="none"/>
<text x="7.4" y="318.8" font-size="11" font-weight="bold" fill="#000">G</text>
<text x="181.4" y="317.8" font-size="11" font-weight="bold" fill="#000">H</text>
<text x="353.2" y="317.8" font-size="11" font-weight="bold" fill="#000">I</text>
<text x="77.0" y="320.8" font-size="8.6" textLength="30.0" lengthAdjust="spacingAndGlyphs" stroke="#1c1c1c" stroke-width="0.3">Crystalloid</text>
<text x="226.8" y="320.8" font-size="8.6" textLength="76.5" lengthAdjust="spacingAndGlyphs" stroke="#1c1c1c" stroke-width="0.3">Crystalloid + rhADAMTS13</text>
<text x="428.3" y="320.8" font-size="8.6" textLength="20.5" lengthAdjust="spacingAndGlyphs" stroke="#1c1c1c" stroke-width="0.3">Plasma</text>
</g>
<defs>
<filter id="b1" filterUnits="userSpaceOnUse" x="-20" y="-20" width="560" height="460"><feGaussianBlur stdDeviation="1.3"/></filter>
<filter id="b2" filterUnits="userSpaceOnUse" x="-20" y="-20" width="560" height="460"><feGaussianBlur stdDeviation="2.6"/></filter>
<filter id="b4" filterUnits="userSpaceOnUse" x="-20" y="-20" width="560" height="460"><feGaussianBlur stdDeviation="7"/></filter>
<filter id="wob" filterUnits="userSpaceOnUse" x="-20" y="-20" width="560" height="460"><feTurbulence type="fractalNoise" baseFrequency="0.035" numOctaves="2" seed="4" result="n"/><feDisplacementMap in="SourceGraphic" in2="n" scale="16" xChannelSelector="R" yChannelSelector="G"/><feGaussianBlur stdDeviation="1.8"/></filter>
<filter id="wob2" filterUnits="userSpaceOnUse" x="-20" y="-20" width="560" height="460"><feTurbulence type="fractalNoise" baseFrequency="0.06" numOctaves="2" seed="9" result="n"/><feDisplacementMap in="SourceGraphic" in2="n" scale="9" xChannelSelector="R" yChannelSelector="G"/><feGaussianBlur stdDeviation="1.1"/></filter>
<clipPath id="cgG"><rect x="5.5" y="5.5" width="503.9" height="399.6"/></clipPath>
<clipPath id="cgH"><rect x="6.8" y="5.5" width="506.7" height="399.6"/></clipPath>
<clipPath id="cgI"><rect x="9.6" y="5.5" width="505.6" height="399.6"/></clipPath>

</defs>
<g transform="translate(18,326) scale(0.29231)" clip-path="url(#cgG)">
<rect x="5.5" y="5.5" width="503.9" height="399.6" fill="#c3c1c1"/>
<path d="M55 207C85 175 121 151 165 122C209 98 246 71 305 62C365 60 424 92 459 121C480 140 495 157 520 190L520 415L0 415L0 290C20 255 38 228 55 207Z" fill="#d3d1d0" filter="url(#b4)"/>
<g filter="url(#wob)" opacity="0.55"><g fill="none" stroke="#b5a0a2" stroke-linecap="round" stroke-linejoin="round"><path d="M40 14 L75 25" stroke-width="16"/><path d="M78 40C84 40 103 41 115 42C127 43 144 44 150 45" stroke-width="32"/><path d="M110 50 L125 72" stroke-width="23"/><path d="M150 42C154 40 169 36 176 32C183 28 188 19 192 15C196 11 201 9 203 8" stroke-width="17"/><path d="M176 40C179 42 189 50 195 55C201 60 208 68 210 70" stroke-width="17"/><path d="M12 158C20 155 44 147 60 140C76 133 96 124 108 117C120 110 127 102 132 96C137 90 139 83 140 80" stroke-width="25"/><path d="M12 84C17 85 41 84 44 90C47 96 34 113 32 118" stroke-width="21"/><path d="M12 120 L20 160" stroke-width="16"/><path d="M270 18C278 18 301 15 317 16C333 17 351 18 365 22C379 26 387 33 400 40C413 47 430 54 442 63C454 72 461 90 471 92C481 94 496 77 501 74" stroke-width="32"/><path d="M330 8C342 9 380 10 400 15C420 20 442 32 450 35" stroke-width="18"/><path d="M484 98C487 103 497 120 500 130C503 140 502 155 503 160" stroke-width="16"/><path d="M14 215C15 229 22 271 22 300C22 329 15 375 14 390" stroke-width="18"/><path d="M44 211C51 211 80 207 88 210C96 213 91 225 92 228" stroke-width="12"/><path d="M60 185 L95 160" stroke-width="14"/><path d="M436 380C442 382 459 390 470 392C481 394 496 392 501 392" stroke-width="12"/></g><g fill="#b5a0a2"><circle cx="43" cy="14" r="11.1"/><circle cx="56" cy="20" r="11.3"/><circle cx="73" cy="24" r="12.7"/><circle cx="79" cy="37" r="25.9"/><circle cx="130" cy="41" r="23.2"/><circle cx="148" cy="43" r="15.2"/><circle cx="110" cy="52" r="15.0"/><circle cx="117" cy="62" r="16.7"/><circle cx="128" cy="75" r="13.2"/><circle cx="175" cy="29" r="9.6"/><circle cx="202" cy="11" r="14.0"/><circle cx="197" cy="55" r="9.4"/><circle cx="13" cy="160" r="12.2"/><circle cx="27" cy="155" r="12.4"/><circle cx="58" cy="137" r="14.1"/><circle cx="84" cy="127" r="17.6"/><circle cx="106" cy="117" r="18.5"/><circle cx="123" cy="108" r="14.4"/><circle cx="130" cy="95" r="21.1"/><circle cx="15" cy="82" r="10.3"/><circle cx="27" cy="86" r="16.2"/><circle cx="44" cy="88" r="10.2"/><circle cx="38" cy="107" r="12.7"/><circle cx="34" cy="116" r="14.5"/><circle cx="14" cy="118" r="13.4"/><circle cx="17" cy="132" r="12.3"/><circle cx="268" cy="15" r="20.4"/><circle cx="300" cy="19" r="24.4"/><circle cx="315" cy="17" r="18.6"/><circle cx="333" cy="20" r="17.6"/><circle cx="352" cy="18" r="18.4"/><circle cx="365" cy="19" r="18.2"/><circle cx="377" cy="26" r="19.6"/><circle cx="391" cy="35" r="27.1"/><circle cx="398" cy="37" r="22.7"/><circle cx="415" cy="50" r="27.4"/><circle cx="428" cy="57" r="23.5"/><circle cx="439" cy="63" r="28.7"/><circle cx="346" cy="12" r="13.7"/><circle cx="360" cy="11" r="14.5"/><circle cx="372" cy="13" r="11.4"/><circle cx="389" cy="16" r="13.4"/><circle cx="413" cy="20" r="14.1"/><circle cx="435" cy="31" r="14.2"/><circle cx="451" cy="35" r="10.2"/><circle cx="483" cy="95" r="13.5"/><circle cx="490" cy="112" r="11.9"/><circle cx="504" cy="144" r="10.4"/><circle cx="503" cy="162" r="8.8"/><circle cx="16" cy="241" r="12.9"/><circle cx="20" cy="259" r="14.9"/><circle cx="20" cy="284" r="9.7"/><circle cx="23" cy="300" r="11.6"/><circle cx="24" cy="315" r="14.9"/><circle cx="22" cy="327" r="8.7"/><circle cx="18" cy="357" r="10.8"/><circle cx="12" cy="377" r="11.9"/><circle cx="11" cy="391" r="9.5"/><circle cx="45" cy="213" r="8.2"/><circle cx="73" cy="208" r="6.3"/><circle cx="89" cy="208" r="7.5"/><circle cx="93" cy="228" r="7.0"/><circle cx="59" cy="187" r="10.6"/><circle cx="85" cy="166" r="11.6"/><circle cx="97" cy="159" r="9.9"/><circle cx="438" cy="383" r="9.3"/><circle cx="451" cy="387" r="8.3"/><circle cx="484" cy="394" r="8.6"/></g></g>
<g filter="url(#wob)" opacity="0.95"><g fill="none" stroke="#d0c4c5" stroke-linecap="round" stroke-linejoin="round"><path d="M40 14 L75 25" stroke-width="13"/><path d="M78 40C84 40 103 41 115 42C127 43 144 44 150 45" stroke-width="29"/><path d="M110 50 L125 72" stroke-width="20"/><path d="M150 42C154 40 169 36 176 32C183 28 188 19 192 15C196 11 201 9 203 8" stroke-width="14"/><path d="M176 40C179 42 189 50 195 55C201 60 208 68 210 70" stroke-width="14"/><path d="M12 158C20 155 44 147 60 140C76 133 96 124 108 117C120 110 127 102 132 96C137 90 139 83 140 80" stroke-width="22"/><path d="M12 84C17 85 41 84 44 90C47 96 34 113 32 118" stroke-width="18"/><path d="M12 120 L20 160" stroke-width="13"/><path d="M270 18C278 18 301 15 317 16C333 17 351 18 365 22C379 26 387 33 400 40C413 47 430 54 442 63C454 72 461 90 471 92C481 94 496 77 501 74" stroke-width="29"/><path d="M330 8C342 9 380 10 400 15C420 20 442 32 450 35" stroke-width="15"/><path d="M484 98C487 103 497 120 500 130C503 140 502 155 503 160" stroke-width="13"/><path d="M14 215C15 229 22 271 22 300C22 329 15 375 14 390" stroke-width="15"/><path d="M44 211C51 211 80 207 88 210C96 213 91 225 92 228" stroke-width="9"/><path d="M60 185 L95 160" stroke-width="11"/><path d="M436 380C442 382 459 390 470 392C481 394 496 392 501 392" stroke-width="9"/></g><g fill="#d0c4c5"><circle cx="43" cy="14" r="9.6"/><circle cx="56" cy="20" r="9.8"/><circle cx="73" cy="24" r="11.2"/><circle cx="79" cy="37" r="24.4"/><circle cx="130" cy="41" r="21.7"/><circle cx="148" cy="43" r="13.7"/><circle cx="110" cy="52" r="13.5"/><circle cx="117" cy="62" r="15.2"/><circle cx="128" cy="75" r="11.7"/><circle cx="175" cy="29" r="8.1"/><circle cx="202" cy="11" r="12.5"/><circle cx="197" cy="55" r="7.9"/><circle cx="13" cy="160" r="10.7"/><circle cx="27" cy="155" r="10.9"/><circle cx="58" cy="137" r="12.6"/><circle cx="84" cy="127" r="16.1"/><circle cx="106" cy="117" r="17.0"/><circle cx="123" cy="108" r="12.9"/><circle cx="130" cy="95" r="19.6"/><circle cx="15" cy="82" r="8.8"/><circle cx="27" cy="86" r="14.7"/><circle cx="44" cy="88" r="8.7"/><circle cx="38" cy="107" r="11.2"/><circle cx="34" cy="116" r="13.0"/><circle cx="14" cy="118" r="11.9"/><circle cx="17" cy="132" r="10.8"/><circle cx="268" cy="15" r="18.9"/><circle cx="300" cy="19" r="22.9"/><circle cx="315" cy="17" r="17.1"/><circle cx="333" cy="20" r="16.1"/><circle cx="352" cy="18" r="16.9"/><circle cx="365" cy="19" r="16.7"/><circle cx="377" cy="26" r="18.1"/><circle cx="391" cy="35" r="25.6"/><circle cx="398" cy="37" r="21.2"/><circle cx="415" cy="50" r="25.9"/><circle cx="428" cy="57" r="22.0"/><circle cx="439" cy="63" r="27.2"/><circle cx="346" cy="12" r="12.2"/><circle cx="360" cy="11" r="13.0"/><circle cx="372" cy="13" r="9.9"/><circle cx="389" cy="16" r="11.9"/><circle cx="413" cy="20" r="12.6"/><circle cx="435" cy="31" r="12.7"/><circle cx="451" cy="35" r="8.7"/><circle cx="483" cy="95" r="12.0"/><circle cx="490" cy="112" r="10.4"/><circle cx="504" cy="144" r="8.9"/><circle cx="503" cy="162" r="7.3"/><circle cx="16" cy="241" r="11.4"/><circle cx="20" cy="259" r="13.4"/><circle cx="20" cy="284" r="8.2"/><circle cx="23" cy="300" r="10.1"/><circle cx="24" cy="315" r="13.4"/><circle cx="22" cy="327" r="7.2"/><circle cx="18" cy="357" r="9.3"/><circle cx="12" cy="377" r="10.4"/><circle cx="11" cy="391" r="8.0"/><circle cx="45" cy="213" r="6.7"/><circle cx="73" cy="208" r="4.8"/><circle cx="89" cy="208" r="6.0"/><circle cx="93" cy="228" r="5.5"/><circle cx="59" cy="187" r="9.1"/><circle cx="85" cy="166" r="10.1"/><circle cx="97" cy="159" r="8.4"/><circle cx="438" cy="383" r="7.8"/><circle cx="451" cy="387" r="6.8"/><circle cx="484" cy="394" r="7.1"/></g></g>
<g filter="url(#b2)" opacity="0.6"><circle cx="41" cy="16" r="5.0" fill="#a98f9e"/><circle cx="47" cy="17" r="7.1" fill="#c08c88"/><circle cx="55" cy="17" r="5.7" fill="#ddd0ce"/><circle cx="65" cy="21" r="6.0" fill="#9aa0b8"/><circle cx="73" cy="17" r="4.1" fill="#b67a78"/><circle cx="78" cy="30" r="5.4" fill="#dccbc8"/><circle cx="86" cy="39" r="5.1" fill="#c9a09c"/><circle cx="76" cy="33" r="3.9" fill="#b88480"/><circle cx="109" cy="43" r="5.2" fill="#dccbc8"/><circle cx="118" cy="46" r="5.8" fill="#c9a09c"/><circle cx="119" cy="33" r="7.5" fill="#dccbc8"/><circle cx="114" cy="51" r="6.4" fill="#b67a78"/><circle cx="129" cy="47" r="4.0" fill="#dccbc8"/><circle cx="134" cy="35" r="6.7" fill="#b88480"/><circle cx="131" cy="47" r="7.0" fill="#c9a09c"/><circle cx="161" cy="39" r="5.7" fill="#b88480"/><circle cx="102" cy="52" r="4.7" fill="#c08c88"/><circle cx="111" cy="53" r="7.4" fill="#9aa0b8"/><circle cx="128" cy="72" r="4.8" fill="#b88480"/><circle cx="123" cy="79" r="7.0" fill="#ddd0ce"/><circle cx="156" cy="42" r="6.0" fill="#b67a78"/><circle cx="158" cy="36" r="7.2" fill="#9aa0b8"/><circle cx="166" cy="36" r="3.5" fill="#b88480"/><circle cx="178" cy="32" r="3.7" fill="#a98f9e"/><circle cx="178" cy="26" r="5.9" fill="#b88480"/><circle cx="183" cy="20" r="7.4" fill="#c08c88"/><circle cx="188" cy="18" r="4.2" fill="#b88480"/><circle cx="201" cy="12" r="4.7" fill="#dccbc8"/><circle cx="172" cy="44" r="4.7" fill="#a98f9e"/><circle cx="184" cy="40" r="6.2" fill="#a98f9e"/><circle cx="185" cy="54" r="6.2" fill="#b88480"/><circle cx="199" cy="56" r="7.0" fill="#9aa0b8"/><circle cx="209" cy="66" r="4.8" fill="#9aa0b8"/><circle cx="212" cy="74" r="6.7" fill="#b88480"/><circle cx="12" cy="165" r="5.2" fill="#a98f9e"/><circle cx="20" cy="146" r="4.7" fill="#c9a09c"/><circle cx="35" cy="160" r="3.5" fill="#9aa0b8"/><circle cx="39" cy="153" r="3.6" fill="#9aa0b8"/><circle cx="54" cy="152" r="5.7" fill="#dccbc8"/><circle cx="48" cy="133" r="4.0" fill="#dccbc8"/><circle cx="68" cy="142" r="7.1" fill="#9aa0b8"/><circle cx="63" cy="140" r="4.2" fill="#b67a78"/><circle cx="82" cy="126" r="3.7" fill="#c9a09c"/><circle cx="72" cy="125" r="6.7" fill="#ddd0ce"/><circle cx="93" cy="135" r="4.2" fill="#b67a78"/><circle cx="96" cy="122" r="5.5" fill="#c08c88"/><circle cx="102" cy="119" r="4.6" fill="#9aa0b8"/><circle cx="114" cy="108" r="6.9" fill="#c08c88"/><circle cx="121" cy="103" r="7.4" fill="#ddd0ce"/><circle cx="111" cy="104" r="4.1" fill="#b88480"/><circle cx="120" cy="98" r="4.9" fill="#dccbc8"/><circle cx="130" cy="88" r="6.4" fill="#c08c88"/><circle cx="139" cy="89" r="5.3" fill="#b88480"/><circle cx="139" cy="77" r="6.0" fill="#c08c88"/><circle cx="15" cy="83" r="5.2" fill="#b88480"/><circle cx="13" cy="84" r="6.3" fill="#dccbc8"/><circle cx="26" cy="93" r="7.2" fill="#c08c88"/><circle cx="39" cy="96" r="4.0" fill="#dccbc8"/><circle cx="48" cy="91" r="6.2" fill="#c9a09c"/><circle cx="37" cy="95" r="5.4" fill="#c08c88"/><circle cx="36" cy="109" r="6.1" fill="#b67a78"/><circle cx="29" cy="111" r="3.6" fill="#b67a78"/><circle cx="37" cy="111" r="5.8" fill="#dccbc8"/><circle cx="15" cy="125" r="3.9" fill="#9aa0b8"/><circle cx="10" cy="123" r="7.0" fill="#b88480"/><circle cx="20" cy="143" r="6.0" fill="#ddd0ce"/><circle cx="19" cy="158" r="7.3" fill="#c9a09c"/><circle cx="19" cy="163" r="7.4" fill="#9aa0b8"/><circle cx="267" cy="28" r="4.1" fill="#ddd0ce"/><circle cx="289" cy="18" r="6.5" fill="#ddd0ce"/><circle cx="292" cy="8" r="4.0" fill="#a98f9e"/><circle cx="294" cy="24" r="6.9" fill="#9aa0b8"/><circle cx="304" cy="29" r="5.9" fill="#c9a09c"/><circle cx="309" cy="13" r="3.6" fill="#dccbc8"/><circle cx="317" cy="25" r="4.5" fill="#b88480"/><circle cx="317" cy="19" r="6.3" fill="#ddd0ce"/><circle cx="339" cy="27" r="5.4" fill="#c08c88"/><circle cx="334" cy="12" r="5.4" fill="#c08c88"/><circle cx="358" cy="13" r="7.3" fill="#b67a78"/><circle cx="360" cy="26" r="4.0" fill="#dccbc8"/><circle cx="353" cy="14" r="4.2" fill="#dccbc8"/><circle cx="366" cy="36" r="4.0" fill="#b67a78"/><circle cx="384" cy="16" r="5.8" fill="#ddd0ce"/><circle cx="375" cy="37" r="5.0" fill="#c9a09c"/><circle cx="394" cy="26" r="5.1" fill="#ddd0ce"/><circle cx="410" cy="51" r="4.0" fill="#c9a09c"/><circle cx="404" cy="43" r="6.2" fill="#b88480"/><circle cx="426" cy="43" r="3.9" fill="#dccbc8"/><circle cx="421" cy="40" r="6.2" fill="#b67a78"/><circle cx="434" cy="46" r="6.1" fill="#a98f9e"/><circle cx="446" cy="50" r="4.0" fill="#ddd0ce"/><circle cx="446" cy="62" r="5.7" fill="#c9a09c"/><circle cx="438" cy="61" r="6.3" fill="#a98f9e"/><circle cx="448" cy="72" r="4.9" fill="#c9a09c"/><circle cx="453" cy="85" r="5.4" fill="#c08c88"/><circle cx="464" cy="94" r="7.3" fill="#b88480"/><circle cx="461" cy="86" r="6.9" fill="#ddd0ce"/><circle cx="489" cy="77" r="5.8" fill="#b67a78"/><circle cx="483" cy="96" r="6.2" fill="#c9a09c"/><circle cx="501" cy="80" r="6.9" fill="#a98f9e"/><circle cx="495" cy="81" r="4.3" fill="#a98f9e"/><circle cx="336" cy="6" r="7.1" fill="#ddd0ce"/><circle cx="344" cy="11" r="6.0" fill="#dccbc8"/><circle cx="340" cy="11" r="3.6" fill="#ddd0ce"/><circle cx="351" cy="10" r="5.5" fill="#9aa0b8"/><circle cx="358" cy="13" r="3.6" fill="#9aa0b8"/><circle cx="370" cy="6" r="7.3" fill="#dccbc8"/><circle cx="374" cy="12" r="3.6" fill="#c08c88"/><circle cx="377" cy="18" r="7.2" fill="#c08c88"/><circle cx="391" cy="17" r="3.8" fill="#a98f9e"/><circle cx="391" cy="19" r="6.5" fill="#b67a78"/><circle cx="404" cy="15" r="5.2" fill="#9aa0b8"/><circle cx="412" cy="21" r="5.1" fill="#c08c88"/><circle cx="415" cy="20" r="6.3" fill="#ddd0ce"/><circle cx="421" cy="26" r="3.6" fill="#dccbc8"/><circle cx="432" cy="25" r="7.1" fill="#ddd0ce"/><circle cx="432" cy="22" r="5.9" fill="#b88480"/><circle cx="442" cy="28" r="4.1" fill="#b88480"/><circle cx="450" cy="37" r="5.8" fill="#a98f9e"/><circle cx="480" cy="102" r="5.3" fill="#a98f9e"/><circle cx="490" cy="99" r="5.1" fill="#b88480"/><circle cx="495" cy="115" r="5.5" fill="#c9a09c"/><circle cx="490" cy="119" r="5.4" fill="#c9a09c"/><circle cx="500" cy="121" r="5.9" fill="#b67a78"/><circle cx="501" cy="132" r="5.5" fill="#dccbc8"/><circle cx="496" cy="144" r="4.8" fill="#b88480"/><circle cx="504" cy="147" r="3.9" fill="#c08c88"/><circle cx="505" cy="165" r="3.7" fill="#ddd0ce"/><circle cx="14" cy="213" r="4.9" fill="#ddd0ce"/><circle cx="16" cy="228" r="4.7" fill="#c9a09c"/><circle cx="14" cy="229" r="4.2" fill="#dccbc8"/><circle cx="19" cy="240" r="4.2" fill="#c9a09c"/><circle cx="15" cy="242" r="7.2" fill="#b88480"/><circle cx="22" cy="251" r="4.9" fill="#ddd0ce"/><circle cx="12" cy="253" r="7.3" fill="#c9a09c"/><circle cx="21" cy="267" r="3.9" fill="#ddd0ce"/><circle cx="25" cy="271" r="7.0" fill="#c08c88"/><circle cx="13" cy="274" r="7.5" fill="#b88480"/><circle cx="18" cy="285" r="4.9" fill="#b67a78"/><circle cx="15" cy="288" r="4.5" fill="#9aa0b8"/><circle cx="19" cy="296" r="3.9" fill="#c08c88"/><circle cx="27" cy="305" r="5.5" fill="#c9a09c"/><circle cx="22" cy="309" r="5.4" fill="#9aa0b8"/><circle cx="14" cy="329" r="6.9" fill="#c08c88"/><circle cx="15" cy="335" r="5.4" fill="#b67a78"/><circle cx="24" cy="335" r="6.5" fill="#ddd0ce"/><circle cx="15" cy="351" r="6.6" fill="#ddd0ce"/><circle cx="18" cy="352" r="4.3" fill="#c9a09c"/><circle cx="12" cy="364" r="4.9" fill="#b67a78"/><circle cx="18" cy="369" r="5.2" fill="#b88480"/><circle cx="9" cy="371" r="6.9" fill="#b88480"/><circle cx="10" cy="389" r="4.4" fill="#dccbc8"/><circle cx="15" cy="389" r="7.2" fill="#ddd0ce"/><circle cx="46" cy="210" r="5.4" fill="#c9a09c"/><circle cx="55" cy="214" r="7.3" fill="#dccbc8"/><circle cx="66" cy="212" r="4.7" fill="#a98f9e"/><circle cx="73" cy="209" r="4.6" fill="#9aa0b8"/><circle cx="80" cy="213" r="4.1" fill="#dccbc8"/><circle cx="90" cy="212" r="4.1" fill="#9aa0b8"/><circle cx="59" cy="189" r="7.3" fill="#b88480"/><circle cx="69" cy="179" r="4.9" fill="#9aa0b8"/><circle cx="70" cy="174" r="6.7" fill="#b88480"/><circle cx="79" cy="169" r="3.6" fill="#c08c88"/><circle cx="88" cy="171" r="3.5" fill="#c08c88"/><circle cx="85" cy="161" r="7.4" fill="#b88480"/><circle cx="98" cy="161" r="7.1" fill="#c9a09c"/><circle cx="434" cy="382" r="4.7" fill="#ddd0ce"/><circle cx="439" cy="379" r="4.9" fill="#dccbc8"/><circle cx="458" cy="390" r="7.3" fill="#9aa0b8"/><circle cx="461" cy="387" r="5.7" fill="#b88480"/><circle cx="473" cy="392" r="7.1" fill="#c08c88"/><circle cx="479" cy="390" r="5.0" fill="#c9a09c"/><circle cx="486" cy="391" r="7.5" fill="#a98f9e"/><circle cx="491" cy="390" r="4.6" fill="#ddd0ce"/><circle cx="497" cy="392" r="4.1" fill="#b88480"/></g>
<g filter="url(#b1)" opacity="0.7"><circle cx="92" cy="49" r="2.2" fill="#a8545a"/><circle cx="87" cy="41" r="1.9" fill="#8f93b5"/><circle cx="155" cy="40" r="3.1" fill="#a8545a"/><circle cx="180" cy="32" r="2.4" fill="#8e3a46"/><circle cx="177" cy="43" r="3.0" fill="#8f93b5"/><circle cx="187" cy="47" r="3.2" fill="#8e3a46"/><circle cx="16" cy="161" r="3.1" fill="#8e3a46"/><circle cx="34" cy="145" r="2.7" fill="#8e3a46"/><circle cx="36" cy="152" r="2.0" fill="#8f93b5"/><circle cx="58" cy="134" r="2.5" fill="#a8545a"/><circle cx="97" cy="129" r="2.2" fill="#a8545a"/><circle cx="132" cy="99" r="3.2" fill="#8e3a46"/><circle cx="49" cy="89" r="2.5" fill="#8e3a46"/><circle cx="9" cy="121" r="3.0" fill="#8e3a46"/><circle cx="21" cy="146" r="2.2" fill="#a8545a"/><circle cx="262" cy="8" r="3.0" fill="#8f93b5"/><circle cx="333" cy="20" r="2.6" fill="#8f93b5"/><circle cx="461" cy="74" r="2.5" fill="#8f93b5"/><circle cx="391" cy="12" r="2.6" fill="#8e3a46"/><circle cx="431" cy="31" r="2.1" fill="#8f93b5"/><circle cx="11" cy="228" r="1.8" fill="#a8545a"/><circle cx="24" cy="272" r="2.6" fill="#a8545a"/><circle cx="15" cy="334" r="2.1" fill="#8e3a46"/><circle cx="13" cy="349" r="2.6" fill="#a8545a"/><circle cx="12" cy="369" r="2.5" fill="#a8545a"/><circle cx="89" cy="225" r="3.2" fill="#8f93b5"/><circle cx="483" cy="392" r="2.5" fill="#8f93b5"/></g>
<path d="M55 207C85 175 121 151 165 122C209 98 246 71 305 62C365 60 424 92 459 121C480 140 495 157 510 183" fill="none" stroke="#8f7672" stroke-width="3" filter="url(#wob2)"/>
<path d="M180 150C230 170 260 160 300 175C340 190 370 180 400 195M360 150C390 165 420 160 450 175M230 130C250 135 270 128 290 135M60 360C90 350 110 370 140 362M380 340C410 352 440 345 470 360" fill="none" stroke="#b3abab" stroke-width="1.4" opacity="0.8" filter="url(#wob2)"/>
<path d="M140 212C144 208 158 202 170 203C182 204 198 214 212 220C226 226 239 234 252 240C265 246 279 254 292 256C305 258 319 253 332 250C345 247 359 240 372 236C385 232 400 227 412 226C424 225 437 227 444 232C451 237 456 248 456 256C456 264 451 273 442 278C433 283 415 285 404 288C393 291 384 293 376 298C368 303 364 314 358 318C352 322 348 322 342 320C336 318 332 306 324 304C316 302 302 306 292 310C282 314 273 324 262 328C251 332 240 337 228 337C216 337 203 328 190 328C177 328 162 336 150 339C138 342 125 346 116 345C107 344 98 340 94 335C90 330 89 322 92 316C95 310 102 303 110 296C118 289 132 284 138 276C144 268 147 258 148 250C149 242 147 236 146 230C145 224 136 216 140 212Z" fill="#c9c2c6" stroke="none"/>
<path d="M165 230C200 225 240 250 290 265C320 272 340 270 350 280C340 300 300 300 270 312C230 325 190 315 150 325C130 320 150 290 160 270C168 255 160 240 165 230Z" fill="#b6abb4" filter="url(#b2)" opacity="0.85"/>
<g filter="url(#b1)" opacity="0.8"><circle cx="161" cy="313" r="2.6" fill="#b9b2b8"/><circle cx="202" cy="322" r="3.3" fill="#a65a62"/><circle cx="224" cy="275" r="3.7" fill="#9fa8c4"/><circle cx="206" cy="234" r="2.4" fill="#8f4550"/><circle cx="357" cy="251" r="2.8" fill="#8f4550"/><circle cx="232" cy="232" r="2.8" fill="#b88a8c"/><circle cx="118" cy="331" r="2.5" fill="#7f93bd"/><circle cx="203" cy="232" r="2.5" fill="#a65a62"/><circle cx="328" cy="286" r="3.5" fill="#a65a62"/><circle cx="280" cy="285" r="3.3" fill="#b9b2b8"/><circle cx="314" cy="265" r="2.2" fill="#8d9cc0"/><circle cx="282" cy="267" r="3.3" fill="#8d9cc0"/><circle cx="191" cy="322" r="2.5" fill="#c9b3b3"/><circle cx="218" cy="334" r="3.7" fill="#c9b3b3"/><circle cx="209" cy="254" r="3.9" fill="#a65a62"/><circle cx="262" cy="277" r="2.8" fill="#c9b3b3"/><circle cx="316" cy="288" r="3.3" fill="#b88a8c"/><circle cx="210" cy="261" r="4.0" fill="#b88a8c"/><circle cx="244" cy="280" r="2.9" fill="#9fa8c4"/><circle cx="226" cy="233" r="3.5" fill="#b88a8c"/><circle cx="291" cy="258" r="2.7" fill="#7f93bd"/><circle cx="155" cy="324" r="2.4" fill="#c9b3b3"/><circle cx="234" cy="235" r="3.2" fill="#b9b2b8"/><circle cx="224" cy="300" r="3.5" fill="#c9b3b3"/><circle cx="156" cy="293" r="2.2" fill="#7f93bd"/><circle cx="194" cy="249" r="2.3" fill="#b88a8c"/><circle cx="248" cy="243" r="2.6" fill="#a65a62"/><circle cx="188" cy="253" r="4.0" fill="#9fa8c4"/><circle cx="134" cy="298" r="2.5" fill="#7f93bd"/><circle cx="211" cy="305" r="2.1" fill="#a65a62"/><circle cx="145" cy="322" r="3.6" fill="#c9b3b3"/><circle cx="271" cy="296" r="4.2" fill="#b9b2b8"/><circle cx="246" cy="247" r="3.3" fill="#b88a8c"/><circle cx="158" cy="290" r="3.7" fill="#8f4550"/><circle cx="145" cy="301" r="3.9" fill="#8f4550"/><circle cx="347" cy="257" r="3.4" fill="#8d9cc0"/><circle cx="174" cy="329" r="3.1" fill="#7f93bd"/><circle cx="285" cy="294" r="2.6" fill="#a65a62"/><circle cx="337" cy="289" r="3.6" fill="#b9b2b8"/><circle cx="288" cy="293" r="2.6" fill="#c9b3b3"/><circle cx="196" cy="297" r="2.0" fill="#a65a62"/><circle cx="214" cy="301" r="2.2" fill="#9fa8c4"/><circle cx="327" cy="251" r="3.0" fill="#8f4550"/><circle cx="180" cy="211" r="2.5" fill="#8f4550"/><circle cx="207" cy="282" r="2.6" fill="#8f4550"/><circle cx="215" cy="235" r="3.4" fill="#b88a8c"/><circle cx="299" cy="290" r="2.4" fill="#7f93bd"/><circle cx="254" cy="276" r="4.0" fill="#b88a8c"/><circle cx="298" cy="288" r="3.1" fill="#c9b3b3"/><circle cx="205" cy="275" r="2.8" fill="#8f4550"/><circle cx="270" cy="270" r="3.6" fill="#8f4550"/><circle cx="217" cy="247" r="3.1" fill="#c9b3b3"/><circle cx="365" cy="310" r="3.4" fill="#b88a8c"/><circle cx="130" cy="331" r="2.3" fill="#8d9cc0"/><circle cx="154" cy="259" r="3.4" fill="#a65a62"/><circle cx="128" cy="294" r="3.1" fill="#8d9cc0"/><circle cx="223" cy="272" r="2.9" fill="#7f93bd"/><circle cx="342" cy="280" r="3.0" fill="#b9b2b8"/><circle cx="217" cy="327" r="2.7" fill="#9fa8c4"/><circle cx="222" cy="291" r="4.1" fill="#c9b3b3"/><circle cx="181" cy="283" r="2.5" fill="#b9b2b8"/><circle cx="162" cy="222" r="4.0" fill="#a65a62"/><circle cx="254" cy="264" r="3.2" fill="#b9b2b8"/><circle cx="216" cy="264" r="2.8" fill="#8d9cc0"/><circle cx="236" cy="270" r="3.3" fill="#b9b2b8"/><circle cx="133" cy="312" r="3.7" fill="#b9b2b8"/><circle cx="200" cy="317" r="3.0" fill="#b9b2b8"/><circle cx="149" cy="237" r="3.1" fill="#b9b2b8"/><circle cx="313" cy="274" r="2.6" fill="#8d9cc0"/><circle cx="106" cy="329" r="3.2" fill="#9fa8c4"/><circle cx="173" cy="225" r="2.2" fill="#8f4550"/><circle cx="175" cy="327" r="3.6" fill="#8f4550"/><circle cx="171" cy="301" r="3.1" fill="#8d9cc0"/><circle cx="201" cy="315" r="3.7" fill="#a65a62"/><circle cx="185" cy="235" r="2.8" fill="#a65a62"/><circle cx="174" cy="235" r="3.0" fill="#7f93bd"/><circle cx="185" cy="277" r="2.6" fill="#b9b2b8"/><circle cx="198" cy="328" r="3.0" fill="#8f4550"/><circle cx="169" cy="254" r="2.2" fill="#7f93bd"/><circle cx="217" cy="292" r="2.6" fill="#8f4550"/><circle cx="142" cy="282" r="2.4" fill="#8d9cc0"/><circle cx="209" cy="285" r="2.7" fill="#8f4550"/><circle cx="285" cy="261" r="3.2" fill="#9fa8c4"/><circle cx="157" cy="210" r="2.8" fill="#a65a62"/><circle cx="257" cy="269" r="3.6" fill="#9fa8c4"/><circle cx="292" cy="277" r="3.0" fill="#8d9cc0"/><circle cx="136" cy="304" r="2.8" fill="#c9b3b3"/><circle cx="256" cy="264" r="2.2" fill="#7f93bd"/><circle cx="360" cy="293" r="3.8" fill="#8f4550"/><circle cx="195" cy="293" r="3.8" fill="#8d9cc0"/><circle cx="142" cy="321" r="2.7" fill="#8f4550"/><circle cx="203" cy="250" r="3.9" fill="#8d9cc0"/><circle cx="339" cy="291" r="2.5" fill="#8d9cc0"/><circle cx="277" cy="294" r="3.4" fill="#a65a62"/><circle cx="358" cy="278" r="3.0" fill="#9fa8c4"/><circle cx="233" cy="275" r="2.6" fill="#9fa8c4"/><circle cx="217" cy="304" r="2.7" fill="#a65a62"/><circle cx="125" cy="326" r="3.3" fill="#b88a8c"/><circle cx="238" cy="330" r="3.8" fill="#b9b2b8"/><circle cx="318" cy="276" r="3.4" fill="#b88a8c"/><circle cx="268" cy="275" r="3.7" fill="#c9b3b3"/><circle cx="352" cy="316" r="2.2" fill="#b88a8c"/><circle cx="335" cy="312" r="2.9" fill="#c9b3b3"/><circle cx="156" cy="317" r="4.1" fill="#a65a62"/><circle cx="225" cy="234" r="2.0" fill="#7f93bd"/><circle cx="249" cy="271" r="4.0" fill="#8d9cc0"/><circle cx="161" cy="267" r="2.7" fill="#c9b3b3"/><circle cx="182" cy="235" r="2.8" fill="#8d9cc0"/><circle cx="282" cy="253" r="2.4" fill="#8d9cc0"/><circle cx="261" cy="251" r="3.9" fill="#a65a62"/><circle cx="342" cy="289" r="2.0" fill="#8d9cc0"/><circle cx="285" cy="295" r="2.3" fill="#9fa8c4"/><circle cx="197" cy="241" r="3.3" fill="#9fa8c4"/><circle cx="151" cy="264" r="2.1" fill="#b9b2b8"/><circle cx="191" cy="248" r="2.0" fill="#7f93bd"/><circle cx="334" cy="263" r="3.5" fill="#8f4550"/><circle cx="190" cy="256" r="4.0" fill="#b9b2b8"/><circle cx="218" cy="262" r="4.0" fill="#8d9cc0"/><circle cx="337" cy="255" r="3.6" fill="#8f4550"/><circle cx="221" cy="287" r="2.8" fill="#8f4550"/><circle cx="153" cy="243" r="3.3" fill="#a65a62"/><circle cx="156" cy="313" r="4.2" fill="#b88a8c"/><circle cx="358" cy="259" r="2.8" fill="#8f4550"/><circle cx="136" cy="319" r="3.8" fill="#9fa8c4"/><circle cx="221" cy="248" r="3.4" fill="#b9b2b8"/><circle cx="336" cy="260" r="3.4" fill="#8f4550"/><circle cx="173" cy="239" r="3.0" fill="#b88a8c"/><circle cx="321" cy="304" r="3.1" fill="#7f93bd"/><circle cx="221" cy="303" r="2.6" fill="#a65a62"/><circle cx="261" cy="304" r="2.6" fill="#b9b2b8"/><circle cx="182" cy="295" r="2.2" fill="#c9b3b3"/><circle cx="292" cy="271" r="3.2" fill="#8d9cc0"/><circle cx="233" cy="261" r="2.8" fill="#b88a8c"/><circle cx="126" cy="331" r="3.5" fill="#7f93bd"/><circle cx="249" cy="301" r="3.2" fill="#b88a8c"/><circle cx="218" cy="305" r="3.3" fill="#8f4550"/><circle cx="239" cy="334" r="2.3" fill="#8d9cc0"/><circle cx="312" cy="292" r="2.4" fill="#7f93bd"/><circle cx="158" cy="306" r="2.9" fill="#a65a62"/><circle cx="230" cy="323" r="2.2" fill="#8f4550"/><circle cx="345" cy="294" r="2.4" fill="#8f4550"/><circle cx="163" cy="296" r="3.9" fill="#7f93bd"/><circle cx="180" cy="291" r="2.9" fill="#b88a8c"/><circle cx="178" cy="248" r="3.9" fill="#9fa8c4"/><circle cx="311" cy="266" r="3.9" fill="#8f4550"/><circle cx="337" cy="280" r="4.1" fill="#b9b2b8"/><circle cx="200" cy="265" r="2.5" fill="#c9b3b3"/><circle cx="238" cy="317" r="2.5" fill="#a65a62"/><circle cx="191" cy="226" r="2.1" fill="#b9b2b8"/><circle cx="231" cy="314" r="3.9" fill="#b9b2b8"/><circle cx="156" cy="220" r="2.1" fill="#c9b3b3"/><circle cx="121" cy="328" r="2.1" fill="#9fa8c4"/><circle cx="161" cy="225" r="3.5" fill="#b88a8c"/><circle cx="311" cy="269" r="3.9" fill="#8d9cc0"/><circle cx="231" cy="241" r="3.9" fill="#a65a62"/><circle cx="220" cy="291" r="2.7" fill="#7f93bd"/><circle cx="297" cy="278" r="2.3" fill="#b9b2b8"/><circle cx="187" cy="296" r="3.1" fill="#8f4550"/><circle cx="204" cy="219" r="3.5" fill="#9fa8c4"/><circle cx="166" cy="275" r="3.0" fill="#b9b2b8"/><circle cx="149" cy="298" r="2.5" fill="#8d9cc0"/><circle cx="272" cy="267" r="3.3" fill="#b9b2b8"/><circle cx="235" cy="265" r="4.2" fill="#b88a8c"/><circle cx="281" cy="309" r="2.2" fill="#b88a8c"/><circle cx="207" cy="223" r="3.3" fill="#b9b2b8"/><circle cx="188" cy="268" r="4.2" fill="#7f93bd"/><circle cx="254" cy="281" r="2.4" fill="#c9b3b3"/><circle cx="269" cy="299" r="2.0" fill="#b88a8c"/><circle cx="147" cy="321" r="2.1" fill="#8d9cc0"/><circle cx="240" cy="259" r="3.9" fill="#b9b2b8"/></g>
<path d="M140 212C144 208 158 202 170 203C182 204 198 214 212 220C226 226 239 234 252 240C265 246 279 254 292 256C305 258 319 253 332 250C345 247 359 240 372 236C385 232 400 227 412 226C424 225 437 227 444 232C451 237 456 248 456 256C456 264 451 273 442 278C433 283 415 285 404 288C393 291 384 293 376 298C368 303 364 314 358 318C352 322 348 322 342 320C336 318 332 306 324 304C316 302 302 306 292 310C282 314 273 324 262 328C251 332 240 337 228 337C216 337 203 328 190 328C177 328 162 336 150 339C138 342 125 346 116 345C107 344 98 340 94 335C90 330 89 322 92 316C95 310 102 303 110 296C118 289 132 284 138 276C144 268 147 258 148 250C149 242 147 236 146 230C145 224 136 216 140 212Z" fill="none" stroke="#cc978c" stroke-width="10" stroke-linejoin="round" filter="url(#wob2)"/>
<path d="M140 212C144 208 158 202 170 203C182 204 198 214 212 220C226 226 239 234 252 240C265 246 279 254 292 256C305 258 319 253 332 250C345 247 359 240 372 236C385 232 400 227 412 226C424 225 437 227 444 232C451 237 456 248 456 256C456 264 451 273 442 278C433 283 415 285 404 288C393 291 384 293 376 298C368 303 364 314 358 318C352 322 348 322 342 320C336 318 332 306 324 304C316 302 302 306 292 310C282 314 273 324 262 328C251 332 240 337 228 337C216 337 203 328 190 328C177 328 162 336 150 339C138 342 125 346 116 345C107 344 98 340 94 335C90 330 89 322 92 316C95 310 102 303 110 296C118 289 132 284 138 276C144 268 147 258 148 250C149 242 147 236 146 230C145 224 136 216 140 212Z" fill="none" stroke="#bd7268" stroke-width="3.2" stroke-linejoin="round" filter="url(#wob2)" opacity="0.75"/>
<path d="M372 298C370 301 363 314 358 318C353 322 348 322 342 320C336 318 332 306 324 304C316 302 302 306 292 310C282 314 273 324 262 328C251 332 240 337 228 337C216 337 203 328 190 328C177 328 162 336 150 339C138 342 125 346 116 345C107 344 98 340 94 335C90 330 89 322 92 316C95 310 102 303 110 296C118 289 132 284 138 276C144 268 147 258 148 250C149 242 147 236 146 230C145 224 136 216 140 212C144 208 165 204 170 203" fill="none" stroke="#cc978c" stroke-width="14" stroke-linejoin="round" stroke-linecap="round" filter="url(#wob2)"/>
<path d="M372 298C370 301 363 314 358 318C353 322 348 322 342 320C336 318 332 306 324 304C316 302 302 306 292 310C282 314 273 324 262 328C251 332 240 337 228 337C216 337 203 328 190 328C177 328 162 336 150 339C138 342 125 346 116 345C107 344 98 340 94 335C90 330 89 322 92 316C95 310 102 303 110 296C118 289 132 284 138 276C144 268 147 258 148 250C149 242 147 236 146 230C145 224 136 216 140 212C144 208 165 204 170 203" fill="none" stroke="#b8695e" stroke-width="3.5" stroke-linejoin="round" filter="url(#wob2)" opacity="0.6"/>
<g filter="url(#b2)" opacity="0.75"><circle cx="60" cy="235" r="6.0" fill="#d3b7b6"/><circle cx="95" cy="228" r="7.5" fill="#c9a8aa"/><circle cx="45" cy="260" r="9.0" fill="#b9b3c6"/><circle cx="75" cy="280" r="6.0" fill="#d3b7b6"/><circle cx="40" cy="300" r="7.5" fill="#c9a8aa"/><circle cx="120" cy="362" r="9.0" fill="#b9b3c6"/><circle cx="58" cy="310" r="6.0" fill="#d3b7b6"/><circle cx="30" cy="345" r="7.5" fill="#c9a8aa"/><circle cx="95" cy="380" r="9.0" fill="#b9b3c6"/><circle cx="150" cy="370" r="6.0" fill="#d3b7b6"/><circle cx="60" cy="385" r="7.5" fill="#c9a8aa"/><circle cx="390" cy="350" r="9.0" fill="#b9b3c6"/><circle cx="330" cy="385" r="6.0" fill="#d3b7b6"/><circle cx="455" cy="300" r="7.5" fill="#c9a8aa"/><circle cx="100" cy="255" r="9.0" fill="#b9b3c6"/></g>
<g filter="url(#b1)"><circle cx="320" cy="95" r="5.2" fill="#7d2b38"/><circle cx="311" cy="99" r="5.2" fill="#7d2b38"/><circle cx="480" cy="200" r="5.2" fill="#7d2b38"/><circle cx="67" cy="336" r="5.2" fill="#7d2b38"/><circle cx="233" cy="371" r="5.2" fill="#7d2b38"/><circle cx="44" cy="211" r="5.2" fill="#7d2b38"/><circle cx="197" cy="85" r="5.2" fill="#7d2b38"/><circle cx="118" cy="248" r="5.2" fill="#7d2b38"/><circle cx="85" cy="210" r="5.2" fill="#7d2b38"/><circle cx="440" cy="383" r="5.2" fill="#7d2b38"/><circle cx="470" cy="350" r="5.2" fill="#7d2b38"/><circle cx="100" cy="340" r="5.2" fill="#7d2b38"/><circle cx="115" cy="401" r="5.2" fill="#7d2b38"/><circle cx="50" cy="294" r="5.2" fill="#7d2b38"/></g>
<path d="M321.5 338L321.5 374L329.5 374L329.5 338" fill="#858585" stroke="#151515" stroke-width="2.6"/>
<path d="M317 339L325.3 307L333.6 339Z" fill="#d9d9d9" stroke="#151515" stroke-width="2.8" stroke-linejoin="miter"/>
</g>
<g transform="translate(190,326) scale(0.29231)" clip-path="url(#cgH)">
<rect x="6.8" y="5.5" width="506.7" height="399.6" fill="#c9c8c8"/>
<g filter="url(#wob)" opacity="0.6"><g fill="none" stroke="#a3acbc" stroke-linecap="round" stroke-linejoin="round"><path d="M18 21C23 23 39 32 48 33C57 34 68 28 72 27" stroke-width="18"/><path d="M72 27C74 31 85 41 84 50C83 59 71 71 66 80C61 89 59 97 54 104C49 111 42 118 36 122C30 126 21 126 18 127" stroke-width="16"/><path d="M8 120C10 121 12 122 18 127C24 132 34 145 42 151C50 157 59 157 66 163C73 169 78 180 84 187C90 194 94 198 101 204C108 210 119 216 125 224C131 232 131 244 137 250C143 256 151 258 160 262C169 266 180 271 190 274C200 277 210 281 220 282C230 283 239 282 249 279C259 276 268 268 279 262C290 256 305 250 316 242C327 234 337 224 345 214C353 204 358 192 363 181C368 170 369 159 375 151C381 143 391 139 399 133C407 127 418 119 422 116" stroke-width="16"/><path d="M10 232C11 232 13 232 18 229C23 226 33 218 42 214C51 210 63 205 72 202C81 199 91 199 95 198" stroke-width="12"/><path d="M125 250C126 256 130 273 131 285C132 297 129 313 128 321C127 329 127 326 125 332C123 338 116 347 116 356C116 365 122 378 125 386C128 394 130 399 131 402" stroke-width="12"/><path d="M131 297C126 298 111 304 101 303C91 302 77 296 72 294" stroke-width="12"/><path d="M113 345C108 346 94 348 84 350C74 352 62 358 54 359C46 360 42 356 39 356" stroke-width="12"/><path d="M399 8C400 13 401 30 405 39C409 48 418 54 422 62C426 70 428 79 428 86C428 93 421 98 422 104C423 110 432 119 434 122" stroke-width="16"/><path d="M452 86C456 88 468 92 475 100C482 108 490 128 493 133" stroke-width="28"/><path d="M464 80 L470 70" stroke-width="14"/><path d="M363 274C368 280 381 301 393 309C405 317 419 320 434 321C449 322 470 320 482 315C494 310 504 295 508 291" stroke-width="16"/><path d="M316 238C312 243 297 257 292 268C287 279 287 291 286 303C285 315 283 327 286 339C289 351 296 365 304 374C312 383 322 390 334 392C346 394 362 391 375 386C388 381 401 369 411 362C421 355 432 352 434 345C436 338 424 325 422 321" stroke-width="12"/><path d="M434 345C437 350 445 370 452 374C459 378 467 371 476 368C485 365 503 358 508 356" stroke-width="12"/><path d="M370 200C372 208 375 235 380 250C385 265 397 283 400 290" stroke-width="16"/><path d="M500 140 L508 200" stroke-width="14"/></g><g fill="#a3acbc"><circle cx="21" cy="21" r="12.0"/><circle cx="31" cy="27" r="12.2"/><circle cx="46" cy="32" r="13.6"/><circle cx="73" cy="24" r="13.7"/><circle cx="73" cy="62" r="10.8"/><circle cx="64" cy="78" r="7.5"/><circle cx="60" cy="94" r="9.9"/><circle cx="54" cy="105" r="11.0"/><circle cx="39" cy="125" r="8.8"/><circle cx="17" cy="124" r="9.1"/><circle cx="41" cy="154" r="13.1"/><circle cx="68" cy="163" r="9.0"/><circle cx="85" cy="189" r="8.1"/><circle cx="100" cy="207" r="8.2"/><circle cx="123" cy="221" r="9.2"/><circle cx="137" cy="248" r="11.2"/><circle cx="173" cy="268" r="11.8"/><circle cx="193" cy="276" r="9.4"/><circle cx="203" cy="277" r="13.4"/><circle cx="237" cy="279" r="8.3"/><circle cx="248" cy="278" r="12.6"/><circle cx="264" cy="269" r="8.2"/><circle cx="279" cy="265" r="10.0"/><circle cx="294" cy="253" r="11.3"/><circle cx="306" cy="247" r="13.5"/><circle cx="319" cy="240" r="12.4"/><circle cx="343" cy="211" r="10.3"/><circle cx="362" cy="183" r="12.2"/><circle cx="367" cy="167" r="9.5"/><circle cx="375" cy="153" r="9.1"/><circle cx="390" cy="140" r="9.4"/><circle cx="399" cy="130" r="9.3"/><circle cx="411" cy="122" r="10.0"/><circle cx="425" cy="117" r="13.4"/><circle cx="8" cy="229" r="8.4"/><circle cx="19" cy="232" r="9.9"/><circle cx="30" cy="223" r="8.7"/><circle cx="39" cy="214" r="10.3"/><circle cx="132" cy="305" r="8.9"/><circle cx="130" cy="321" r="9.4"/><circle cx="125" cy="333" r="7.5"/><circle cx="119" cy="358" r="8.7"/><circle cx="125" cy="386" r="9.1"/><circle cx="128" cy="298" r="8.4"/><circle cx="117" cy="300" r="6.3"/><circle cx="100" cy="300" r="9.0"/><circle cx="85" cy="297" r="8.1"/><circle cx="115" cy="344" r="7.1"/><circle cx="98" cy="349" r="6.1"/><circle cx="53" cy="357" r="7.7"/><circle cx="41" cy="357" r="8.7"/><circle cx="402" cy="22" r="8.2"/><circle cx="406" cy="39" r="9.6"/><circle cx="416" cy="50" r="12.2"/><circle cx="424" cy="59" r="7.3"/><circle cx="424" cy="101" r="9.0"/><circle cx="431" cy="124" r="9.9"/><circle cx="449" cy="87" r="14.2"/><circle cx="464" cy="95" r="20.1"/><circle cx="484" cy="115" r="14.9"/><circle cx="494" cy="131" r="18.2"/><circle cx="465" cy="80" r="8.0"/><circle cx="469" cy="72" r="10.0"/><circle cx="374" cy="283" r="12.7"/><circle cx="385" cy="297" r="10.9"/><circle cx="395" cy="312" r="12.4"/><circle cx="405" cy="314" r="11.1"/><circle cx="432" cy="323" r="11.5"/><circle cx="481" cy="317" r="11.9"/><circle cx="508" cy="291" r="7.6"/><circle cx="306" cy="250" r="5.9"/><circle cx="291" cy="283" r="7.3"/><circle cx="287" cy="305" r="8.1"/><circle cx="286" cy="324" r="10.1"/><circle cx="286" cy="338" r="6.8"/><circle cx="300" cy="363" r="8.2"/><circle cx="306" cy="376" r="7.5"/><circle cx="322" cy="383" r="9.6"/><circle cx="334" cy="392" r="6.7"/><circle cx="350" cy="390" r="5.9"/><circle cx="362" cy="388" r="9.4"/><circle cx="375" cy="385" r="6.1"/><circle cx="409" cy="362" r="7.9"/><circle cx="426" cy="334" r="7.2"/><circle cx="431" cy="343" r="9.3"/><circle cx="442" cy="359" r="8.9"/><circle cx="453" cy="372" r="6.3"/><circle cx="474" cy="368" r="6.9"/><circle cx="491" cy="362" r="7.5"/><circle cx="509" cy="357" r="6.7"/><circle cx="371" cy="202" r="12.3"/><circle cx="375" cy="219" r="11.6"/><circle cx="379" cy="232" r="9.0"/><circle cx="395" cy="275" r="8.6"/><circle cx="400" cy="292" r="12.1"/><circle cx="501" cy="137" r="8.3"/><circle cx="504" cy="158" r="9.7"/><circle cx="506" cy="170" r="8.8"/><circle cx="503" cy="183" r="7.2"/><circle cx="508" cy="200" r="9.0"/></g></g>
<g filter="url(#wob)" opacity="0.95"><g fill="none" stroke="#d6d8dd" stroke-linecap="round" stroke-linejoin="round"><path d="M18 21C23 23 39 32 48 33C57 34 68 28 72 27" stroke-width="14"/><path d="M72 27C74 31 85 41 84 50C83 59 71 71 66 80C61 89 59 97 54 104C49 111 42 118 36 122C30 126 21 126 18 127" stroke-width="12"/><path d="M8 120C10 121 12 122 18 127C24 132 34 145 42 151C50 157 59 157 66 163C73 169 78 180 84 187C90 194 94 198 101 204C108 210 119 216 125 224C131 232 131 244 137 250C143 256 151 258 160 262C169 266 180 271 190 274C200 277 210 281 220 282C230 283 239 282 249 279C259 276 268 268 279 262C290 256 305 250 316 242C327 234 337 224 345 214C353 204 358 192 363 181C368 170 369 159 375 151C381 143 391 139 399 133C407 127 418 119 422 116" stroke-width="13"/><path d="M10 232C11 232 13 232 18 229C23 226 33 218 42 214C51 210 63 205 72 202C81 199 91 199 95 198" stroke-width="9"/><path d="M125 250C126 256 130 273 131 285C132 297 129 313 128 321C127 329 127 326 125 332C123 338 116 347 116 356C116 365 122 378 125 386C128 394 130 399 131 402" stroke-width="9"/><path d="M131 297C126 298 111 304 101 303C91 302 77 296 72 294" stroke-width="8"/><path d="M113 345C108 346 94 348 84 350C74 352 62 358 54 359C46 360 42 356 39 356" stroke-width="8"/><path d="M399 8C400 13 401 30 405 39C409 48 418 54 422 62C426 70 428 79 428 86C428 93 421 98 422 104C423 110 432 119 434 122" stroke-width="12"/><path d="M452 86C456 88 468 92 475 100C482 108 490 128 493 133" stroke-width="24"/><path d="M464 80 L470 70" stroke-width="10"/><path d="M363 274C368 280 381 301 393 309C405 317 419 320 434 321C449 322 470 320 482 315C494 310 504 295 508 291" stroke-width="12"/><path d="M316 238C312 243 297 257 292 268C287 279 287 291 286 303C285 315 283 327 286 339C289 351 296 365 304 374C312 383 322 390 334 392C346 394 362 391 375 386C388 381 401 369 411 362C421 355 432 352 434 345C436 338 424 325 422 321" stroke-width="9"/><path d="M434 345C437 350 445 370 452 374C459 378 467 371 476 368C485 365 503 358 508 356" stroke-width="9"/><path d="M370 200C372 208 375 235 380 250C385 265 397 283 400 290" stroke-width="12"/><path d="M500 140 L508 200" stroke-width="10"/></g><g fill="#d6d8dd"><circle cx="21" cy="21" r="10.2"/><circle cx="31" cy="27" r="10.4"/><circle cx="46" cy="32" r="11.9"/><circle cx="73" cy="24" r="12.0"/><circle cx="73" cy="62" r="9.1"/><circle cx="64" cy="78" r="5.8"/><circle cx="60" cy="94" r="8.2"/><circle cx="54" cy="105" r="9.2"/><circle cx="39" cy="125" r="7.1"/><circle cx="17" cy="124" r="7.3"/><circle cx="41" cy="154" r="11.4"/><circle cx="68" cy="163" r="7.2"/><circle cx="85" cy="189" r="6.3"/><circle cx="100" cy="207" r="6.4"/><circle cx="123" cy="221" r="7.5"/><circle cx="137" cy="248" r="9.5"/><circle cx="173" cy="268" r="10.0"/><circle cx="193" cy="276" r="7.6"/><circle cx="203" cy="277" r="11.6"/><circle cx="237" cy="279" r="6.5"/><circle cx="248" cy="278" r="10.9"/><circle cx="264" cy="269" r="6.4"/><circle cx="279" cy="265" r="8.3"/><circle cx="294" cy="253" r="9.6"/><circle cx="306" cy="247" r="11.8"/><circle cx="319" cy="240" r="10.7"/><circle cx="343" cy="211" r="8.6"/><circle cx="362" cy="183" r="10.4"/><circle cx="367" cy="167" r="7.8"/><circle cx="375" cy="153" r="7.3"/><circle cx="390" cy="140" r="7.7"/><circle cx="399" cy="130" r="7.6"/><circle cx="411" cy="122" r="8.2"/><circle cx="425" cy="117" r="11.6"/><circle cx="8" cy="229" r="6.7"/><circle cx="19" cy="232" r="8.1"/><circle cx="30" cy="223" r="6.9"/><circle cx="39" cy="214" r="8.5"/><circle cx="132" cy="305" r="7.1"/><circle cx="130" cy="321" r="7.6"/><circle cx="125" cy="333" r="5.8"/><circle cx="119" cy="358" r="6.9"/><circle cx="125" cy="386" r="7.4"/><circle cx="128" cy="298" r="6.6"/><circle cx="117" cy="300" r="4.5"/><circle cx="100" cy="300" r="7.3"/><circle cx="85" cy="297" r="6.3"/><circle cx="115" cy="344" r="5.4"/><circle cx="98" cy="349" r="4.4"/><circle cx="53" cy="357" r="5.9"/><circle cx="41" cy="357" r="6.9"/><circle cx="402" cy="22" r="6.4"/><circle cx="406" cy="39" r="7.9"/><circle cx="416" cy="50" r="10.4"/><circle cx="424" cy="59" r="5.6"/><circle cx="424" cy="101" r="7.3"/><circle cx="431" cy="124" r="8.1"/><circle cx="449" cy="87" r="12.5"/><circle cx="464" cy="95" r="18.4"/><circle cx="484" cy="115" r="13.2"/><circle cx="494" cy="131" r="16.5"/><circle cx="465" cy="80" r="6.2"/><circle cx="469" cy="72" r="8.3"/><circle cx="374" cy="283" r="11.0"/><circle cx="385" cy="297" r="9.2"/><circle cx="395" cy="312" r="10.7"/><circle cx="405" cy="314" r="9.3"/><circle cx="432" cy="323" r="9.7"/><circle cx="481" cy="317" r="10.1"/><circle cx="508" cy="291" r="5.9"/><circle cx="306" cy="250" r="4.2"/><circle cx="291" cy="283" r="5.6"/><circle cx="287" cy="305" r="6.4"/><circle cx="286" cy="324" r="8.3"/><circle cx="286" cy="338" r="5.0"/><circle cx="300" cy="363" r="6.4"/><circle cx="306" cy="376" r="5.8"/><circle cx="322" cy="383" r="7.9"/><circle cx="334" cy="392" r="5.0"/><circle cx="350" cy="390" r="4.2"/><circle cx="362" cy="388" r="7.7"/><circle cx="375" cy="385" r="4.3"/><circle cx="409" cy="362" r="6.2"/><circle cx="426" cy="334" r="5.5"/><circle cx="431" cy="343" r="7.6"/><circle cx="442" cy="359" r="7.1"/><circle cx="453" cy="372" r="4.5"/><circle cx="474" cy="368" r="5.2"/><circle cx="491" cy="362" r="5.7"/><circle cx="509" cy="357" r="5.0"/><circle cx="371" cy="202" r="10.5"/><circle cx="375" cy="219" r="9.8"/><circle cx="379" cy="232" r="7.3"/><circle cx="395" cy="275" r="6.8"/><circle cx="400" cy="292" r="10.4"/><circle cx="501" cy="137" r="6.5"/><circle cx="504" cy="158" r="7.9"/><circle cx="506" cy="170" r="7.0"/><circle cx="503" cy="183" r="5.4"/><circle cx="508" cy="200" r="7.3"/></g></g>
<g filter="url(#b1)" opacity="0.65"><circle cx="15" cy="24" r="2.1" fill="#6a9dcc"/><circle cx="28" cy="25" r="2.2" fill="#5590c8"/><circle cx="43" cy="33" r="3.4" fill="#c5cbd6"/><circle cx="57" cy="32" r="2.4" fill="#6a9dcc"/><circle cx="73" cy="30" r="2.2" fill="#6a9dcc"/><circle cx="69" cy="25" r="3.5" fill="#e0e3e8"/><circle cx="77" cy="32" r="1.9" fill="#b9b4ba"/><circle cx="82" cy="50" r="3.0" fill="#9db9d6"/><circle cx="77" cy="60" r="1.9" fill="#5590c8"/><circle cx="77" cy="62" r="2.4" fill="#c5cbd6"/><circle cx="70" cy="75" r="2.4" fill="#5590c8"/><circle cx="68" cy="78" r="3.3" fill="#9db9d6"/><circle cx="60" cy="94" r="3.4" fill="#c5cbd6"/><circle cx="52" cy="107" r="2.4" fill="#9db9d6"/><circle cx="48" cy="110" r="2.9" fill="#e0e3e8"/><circle cx="39" cy="118" r="2.0" fill="#b3c7db"/><circle cx="34" cy="120" r="3.4" fill="#c5cbd6"/><circle cx="19" cy="126" r="2.2" fill="#9db9d6"/><circle cx="27" cy="141" r="2.5" fill="#9db9d6"/><circle cx="41" cy="151" r="3.6" fill="#b9b4ba"/><circle cx="53" cy="152" r="2.8" fill="#b9b4ba"/><circle cx="56" cy="162" r="3.1" fill="#b3c7db"/><circle cx="64" cy="166" r="2.3" fill="#b9b4ba"/><circle cx="70" cy="171" r="2.7" fill="#5590c8"/><circle cx="75" cy="180" r="1.9" fill="#9db9d6"/><circle cx="87" cy="185" r="2.3" fill="#b3c7db"/><circle cx="88" cy="196" r="3.6" fill="#9db9d6"/><circle cx="101" cy="205" r="3.4" fill="#e0e3e8"/><circle cx="120" cy="215" r="2.3" fill="#5590c8"/><circle cx="123" cy="223" r="2.7" fill="#6a9dcc"/><circle cx="126" cy="230" r="3.2" fill="#d9dde4"/><circle cx="135" cy="250" r="3.1" fill="#9db9d6"/><circle cx="146" cy="251" r="2.9" fill="#c5cbd6"/><circle cx="153" cy="257" r="3.3" fill="#d9dde4"/><circle cx="169" cy="263" r="1.8" fill="#c5cbd6"/><circle cx="193" cy="277" r="2.6" fill="#6a9dcc"/><circle cx="211" cy="279" r="3.2" fill="#c5cbd6"/><circle cx="222" cy="283" r="2.8" fill="#b3c7db"/><circle cx="270" cy="264" r="2.1" fill="#c5cbd6"/><circle cx="287" cy="255" r="2.4" fill="#b9b4ba"/><circle cx="294" cy="253" r="3.2" fill="#9db9d6"/><circle cx="307" cy="245" r="2.7" fill="#5590c8"/><circle cx="317" cy="240" r="3.5" fill="#b3c7db"/><circle cx="319" cy="233" r="2.8" fill="#b3c7db"/><circle cx="338" cy="219" r="3.1" fill="#d9dde4"/><circle cx="357" cy="191" r="2.1" fill="#5590c8"/><circle cx="363" cy="183" r="3.6" fill="#b3c7db"/><circle cx="363" cy="170" r="3.1" fill="#c5cbd6"/><circle cx="368" cy="169" r="2.9" fill="#c5cbd6"/><circle cx="372" cy="153" r="2.4" fill="#5590c8"/><circle cx="33" cy="218" r="3.0" fill="#b3c7db"/><circle cx="56" cy="207" r="2.5" fill="#b3c7db"/><circle cx="96" cy="196" r="2.6" fill="#c5cbd6"/><circle cx="128" cy="259" r="2.6" fill="#b9b4ba"/><circle cx="129" cy="266" r="2.4" fill="#b9b4ba"/><circle cx="130" cy="285" r="3.3" fill="#6a9dcc"/><circle cx="127" cy="312" r="3.3" fill="#6a9dcc"/><circle cx="129" cy="321" r="2.2" fill="#d9dde4"/><circle cx="125" cy="333" r="2.9" fill="#b3c7db"/><circle cx="120" cy="350" r="2.0" fill="#b3c7db"/><circle cx="117" cy="356" r="2.3" fill="#b9b4ba"/><circle cx="118" cy="366" r="2.6" fill="#5590c8"/><circle cx="121" cy="378" r="2.0" fill="#b9b4ba"/><circle cx="132" cy="298" r="3.5" fill="#d9dde4"/><circle cx="122" cy="301" r="3.1" fill="#5590c8"/><circle cx="109" cy="301" r="2.9" fill="#6a9dcc"/><circle cx="92" cy="301" r="3.0" fill="#b3c7db"/><circle cx="103" cy="346" r="2.5" fill="#5590c8"/><circle cx="93" cy="350" r="2.4" fill="#6a9dcc"/><circle cx="83" cy="349" r="2.3" fill="#9db9d6"/><circle cx="65" cy="355" r="2.7" fill="#9db9d6"/><circle cx="38" cy="357" r="3.2" fill="#c5cbd6"/><circle cx="403" cy="18" r="3.5" fill="#6a9dcc"/><circle cx="408" cy="48" r="3.5" fill="#5590c8"/><circle cx="421" cy="60" r="3.0" fill="#d9dde4"/><circle cx="427" cy="94" r="2.5" fill="#d9dde4"/><circle cx="421" cy="106" r="2.5" fill="#6a9dcc"/><circle cx="435" cy="120" r="2.2" fill="#5590c8"/><circle cx="472" cy="96" r="3.0" fill="#d9dde4"/><circle cx="480" cy="108" r="3.2" fill="#e0e3e8"/><circle cx="489" cy="120" r="2.6" fill="#5590c8"/><circle cx="490" cy="134" r="2.7" fill="#c5cbd6"/><circle cx="364" cy="274" r="3.2" fill="#b9b4ba"/><circle cx="387" cy="299" r="3.5" fill="#b9b4ba"/><circle cx="394" cy="309" r="2.5" fill="#d9dde4"/><circle cx="412" cy="316" r="3.1" fill="#e0e3e8"/><circle cx="415" cy="314" r="3.6" fill="#d9dde4"/><circle cx="428" cy="318" r="2.2" fill="#c5cbd6"/><circle cx="436" cy="322" r="3.0" fill="#e0e3e8"/><circle cx="475" cy="317" r="1.9" fill="#5590c8"/><circle cx="482" cy="315" r="3.2" fill="#5590c8"/><circle cx="487" cy="310" r="1.9" fill="#b3c7db"/><circle cx="495" cy="302" r="1.9" fill="#5590c8"/><circle cx="504" cy="298" r="3.0" fill="#c5cbd6"/><circle cx="510" cy="290" r="3.3" fill="#e0e3e8"/><circle cx="316" cy="240" r="1.9" fill="#d9dde4"/><circle cx="305" cy="252" r="1.8" fill="#9db9d6"/><circle cx="296" cy="260" r="3.5" fill="#e0e3e8"/><circle cx="287" cy="293" r="3.5" fill="#9db9d6"/><circle cx="288" cy="302" r="2.7" fill="#e0e3e8"/><circle cx="285" cy="310" r="3.1" fill="#b9b4ba"/><circle cx="288" cy="329" r="3.6" fill="#c5cbd6"/><circle cx="284" cy="337" r="1.9" fill="#b3c7db"/><circle cx="294" cy="355" r="3.5" fill="#d9dde4"/><circle cx="303" cy="373" r="2.4" fill="#9db9d6"/><circle cx="314" cy="377" r="3.5" fill="#c5cbd6"/><circle cx="348" cy="390" r="2.5" fill="#e0e3e8"/><circle cx="360" cy="387" r="2.5" fill="#6a9dcc"/><circle cx="366" cy="388" r="2.0" fill="#9db9d6"/><circle cx="377" cy="384" r="2.2" fill="#b9b4ba"/><circle cx="391" cy="377" r="3.2" fill="#b3c7db"/><circle cx="428" cy="350" r="2.6" fill="#b9b4ba"/><circle cx="422" cy="320" r="2.7" fill="#5590c8"/><circle cx="436" cy="345" r="2.2" fill="#b3c7db"/><circle cx="437" cy="352" r="2.9" fill="#6a9dcc"/><circle cx="442" cy="359" r="2.2" fill="#e0e3e8"/><circle cx="448" cy="369" r="2.7" fill="#c5cbd6"/><circle cx="453" cy="374" r="3.1" fill="#c5cbd6"/><circle cx="461" cy="370" r="2.4" fill="#9db9d6"/><circle cx="492" cy="361" r="2.1" fill="#b3c7db"/><circle cx="499" cy="360" r="3.0" fill="#6a9dcc"/><circle cx="506" cy="358" r="3.5" fill="#6a9dcc"/><circle cx="376" cy="217" r="3.1" fill="#9db9d6"/><circle cx="375" cy="233" r="2.3" fill="#9db9d6"/><circle cx="395" cy="280" r="3.0" fill="#d9dde4"/><circle cx="401" cy="288" r="2.5" fill="#e0e3e8"/><circle cx="506" cy="168" r="2.1" fill="#5590c8"/><circle cx="504" cy="173" r="3.2" fill="#e0e3e8"/><circle cx="509" cy="189" r="3.2" fill="#c5cbd6"/><circle cx="510" cy="199" r="3.1" fill="#c5cbd6"/></g>
<g filter="url(#b1)" opacity="0.85"><ellipse cx="122" cy="217" rx="12" ry="6" fill="#3a84c6" transform="rotate(35 122 217)"/><ellipse cx="208" cy="280" rx="16" ry="6" fill="#3a84c6" transform="rotate(5 208 280)"/><ellipse cx="149" cy="256" rx="8" ry="5" fill="#3a84c6" transform="rotate(25 149 256)"/><ellipse cx="352" cy="205" rx="6" ry="9" fill="#3a84c6" transform="rotate(0 352 205)"/><ellipse cx="74" cy="40" rx="6" ry="8" fill="#3a84c6" transform="rotate(0 74 40)"/><ellipse cx="60" cy="95" rx="5" ry="6" fill="#3a84c6" transform="rotate(0 60 95)"/><ellipse cx="250" cy="277" rx="8" ry="4" fill="#3a84c6" transform="rotate(-10 250 277)"/><ellipse cx="90" cy="190" rx="7" ry="4" fill="#3a84c6" transform="rotate(40 90 190)"/><ellipse cx="40" cy="148" rx="7" ry="5" fill="#3a84c6" transform="rotate(30 40 148)"/><ellipse cx="300" cy="250" rx="7" ry="4" fill="#3a84c6" transform="rotate(-25 300 250)"/></g>
<g filter="url(#b1)"><circle cx="63" cy="160" r="3.2" fill="#7a1f33"/><circle cx="125" cy="330" r="3.2" fill="#7a1f33"/><circle cx="39" cy="356" r="3.2" fill="#7a1f33"/><circle cx="458" cy="371" r="3.2" fill="#7a1f33"/><circle cx="41" cy="226" r="3.2" fill="#7a1f33"/></g>
<ellipse cx="438" cy="224" rx="70" ry="90" fill="#d6d8de" filter="url(#wob)" opacity="0.8"/>
<g transform="rotate(14 442 220)">
<ellipse cx="442" cy="220" rx="60" ry="79" fill="#dab3aa" filter="url(#wob2)"/>
<ellipse cx="442" cy="220" rx="57" ry="76" fill="none" stroke="#b9584c" stroke-width="2.1" opacity="0.75" filter="url(#wob2)"/>
<ellipse cx="442" cy="220" rx="53" ry="71.5" fill="none" stroke="#b9584c" stroke-width="2.1" opacity="0.75" filter="url(#wob2)"/>
<ellipse cx="442" cy="220" rx="49" ry="67" fill="none" stroke="#b9584c" stroke-width="2.1" opacity="0.75" filter="url(#wob2)"/>
<ellipse cx="442" cy="220" rx="45" ry="62.5" fill="none" stroke="#b9584c" stroke-width="2.1" opacity="0.75" filter="url(#wob2)"/>
<ellipse cx="442" cy="220" rx="41" ry="58" fill="none" stroke="#b9584c" stroke-width="2.1" opacity="0.75" filter="url(#wob2)"/>
<ellipse cx="444" cy="220" rx="35" ry="50" fill="#cdcccc" filter="url(#wob2)"/>
<path d="M472 190C484 215 480 248 458 266C444 274 424 268 414 256" fill="none" stroke="#5a8fc4" stroke-width="3" stroke-linecap="round" filter="url(#b1)" opacity="0.7"/>
<path d="M472 190C484 215 480 248 458 266C444 274 424 268 414 256" fill="none" stroke="#262b52" stroke-width="1.4" stroke-dasharray="2.5 6" opacity="0.7"/>
</g>
</g>
<g transform="translate(362,326) scale(0.29231)" clip-path="url(#cgI)">
<rect x="9.6" y="5.5" width="505.6" height="399.6" fill="#c8c7c7"/>
<g filter="url(#wob)" opacity="0.65"><g fill="none" stroke="#a0a7b6" stroke-linecap="round" stroke-linejoin="round"><path d="M12 10C13 12 15 14 17 21C19 28 21 42 24 50C27 58 29 62 35 68C41 74 50 80 59 86C68 92 82 100 89 104C96 108 98 112 100 113" stroke-width="18"/><path d="M100 113C97 116 89 127 83 133C77 139 73 147 65 151C57 155 44 155 35 157C26 159 14 164 10 165" stroke-width="18"/><path d="M65 130 L85 145" stroke-width="22"/><path d="M100 113C104 112 118 110 124 107C130 104 134 100 136 98" stroke-width="10"/><path d="M130 122C133 125 146 135 148 142C150 149 141 156 142 163C143 170 149 176 154 181C159 186 164 189 171 193C178 197 188 198 195 204C202 210 212 220 213 228C214 236 203 248 201 252" stroke-width="15"/><path d="M148 139C152 135 165 125 171 116C177 107 179 94 183 86C187 78 191 74 195 68C199 62 204 56 207 50C210 44 212 40 213 33C214 26 210 14 210 10" stroke-width="15"/><path d="M205 20C209 22 222 30 230 30C238 30 250 23 254 22" stroke-width="24"/><path d="M213 56C214 63 218 85 219 98C220 111 221 123 222 133C223 143 224 153 225 157" stroke-width="15"/><path d="M171 191C173 194 179 201 183 208C187 215 192 224 195 232C198 240 198 247 198 256C198 265 196 277 195 285C194 293 191 296 189 303C187 310 186 319 183 327C180 335 172 343 171 350C170 357 180 363 177 368C174 373 160 376 154 380C148 384 146 388 142 392C138 396 132 401 130 403" stroke-width="13"/><path d="M98 392 L110 392" stroke-width="14"/><path d="M339 8C340 14 343 35 345 45C347 55 351 59 351 68C351 77 348 89 345 98C342 107 337 115 333 122C329 129 323 136 321 139" stroke-width="17"/><path d="M375 21C380 23 396 28 404 33C412 38 417 46 422 50C427 54 432 56 434 57" stroke-width="15"/><path d="M422 57C421 62 418 77 416 86C414 95 412 104 410 110C408 116 405 122 404 125" stroke-width="15"/><path d="M381 68 L404 74" stroke-width="12"/><path d="M360 181C362 185 365 198 369 204C373 210 384 211 386 216C388 221 385 230 381 234C377 238 366 239 363 240" stroke-width="14"/><path d="M233 220C238 223 252 234 262 238C272 242 282 245 292 244C302 243 311 236 321 232C331 228 342 223 351 220C360 217 369 214 375 214C381 214 384 219 386 220" stroke-width="16"/><path d="M292 244C295 248 305 259 310 268C315 277 317 288 321 297C325 306 325 314 333 321C341 328 359 333 369 339C379 345 385 351 392 356C399 361 407 366 410 368" stroke-width="14"/><path d="M321 256C326 258 344 262 351 268C358 274 359 285 363 291C367 297 369 303 375 303C381 303 391 295 398 291C405 287 411 278 416 279C421 280 425 290 428 297C431 304 435 315 434 321C433 327 426 327 422 333C418 339 412 352 410 356" stroke-width="13"/><path d="M434 327C438 328 454 335 458 333C462 331 460 318 460 315" stroke-width="12"/><path d="M458 333C458 338 456 353 458 362C460 371 466 379 469 386C472 393 474 401 475 404" stroke-width="13"/><path d="M481 350C486 350 504 341 508 348C512 355 508 385 508 392" stroke-width="17"/><path d="M286 262 L292 282" stroke-width="10"/><path d="M205 150C207 158 210 188 215 200C220 212 229 221 232 225" stroke-width="22"/></g><g fill="#a0a7b6"><circle cx="15" cy="10" r="12.7"/><circle cx="15" cy="21" r="12.9"/><circle cx="18" cy="34" r="14.4"/><circle cx="25" cy="47" r="14.5"/><circle cx="57" cy="83" r="13.1"/><circle cx="72" cy="93" r="8.9"/><circle cx="89" cy="106" r="11.9"/><circle cx="100" cy="114" r="13.3"/><circle cx="103" cy="116" r="10.6"/><circle cx="64" cy="148" r="10.2"/><circle cx="34" cy="160" r="14.8"/><circle cx="12" cy="165" r="10.0"/><circle cx="86" cy="147" r="10.7"/><circle cx="99" cy="116" r="5.2"/><circle cx="134" cy="95" r="5.7"/><circle cx="139" cy="130" r="10.1"/><circle cx="140" cy="163" r="10.6"/><circle cx="157" cy="183" r="8.5"/><circle cx="169" cy="192" r="12.0"/><circle cx="198" cy="202" r="7.5"/><circle cx="203" cy="215" r="11.4"/><circle cx="213" cy="226" r="7.4"/><circle cx="207" cy="243" r="9.1"/><circle cx="203" cy="250" r="10.2"/><circle cx="150" cy="137" r="12.1"/><circle cx="162" cy="126" r="11.2"/><circle cx="181" cy="83" r="9.3"/><circle cx="206" cy="52" r="11.0"/><circle cx="211" cy="34" r="8.6"/><circle cx="210" cy="12" r="8.2"/><circle cx="208" cy="18" r="14.0"/><circle cx="217" cy="22" r="13.9"/><circle cx="230" cy="28" r="14.9"/><circle cx="257" cy="23" r="20.3"/><circle cx="211" cy="53" r="10.3"/><circle cx="216" cy="73" r="12.2"/><circle cx="217" cy="85" r="10.6"/><circle cx="216" cy="98" r="12.7"/><circle cx="197" cy="234" r="9.0"/><circle cx="200" cy="256" r="9.5"/><circle cx="197" cy="271" r="7.6"/><circle cx="198" cy="287" r="8.8"/><circle cx="183" cy="327" r="9.3"/><circle cx="174" cy="369" r="9.3"/><circle cx="155" cy="380" r="6.9"/><circle cx="141" cy="389" r="10.1"/><circle cx="128" cy="401" r="9.0"/><circle cx="112" cy="391" r="8.7"/><circle cx="339" cy="10" r="9.3"/><circle cx="350" cy="66" r="12.0"/><circle cx="350" cy="84" r="13.7"/><circle cx="339" cy="109" r="9.1"/><circle cx="334" cy="122" r="10.8"/><circle cx="324" cy="139" r="13.7"/><circle cx="377" cy="18" r="7.1"/><circle cx="406" cy="30" r="8.7"/><circle cx="419" cy="52" r="9.5"/><circle cx="431" cy="58" r="7.7"/><circle cx="423" cy="59" r="10.5"/><circle cx="416" cy="84" r="8.1"/><circle cx="411" cy="108" r="9.6"/><circle cx="405" cy="125" r="8.9"/><circle cx="380" cy="70" r="8.4"/><circle cx="361" cy="179" r="11.2"/><circle cx="371" cy="203" r="9.6"/><circle cx="388" cy="219" r="11.0"/><circle cx="379" cy="235" r="9.8"/><circle cx="231" cy="222" r="12.0"/><circle cx="276" cy="243" r="12.4"/><circle cx="306" cy="238" r="8.0"/><circle cx="338" cy="223" r="7.6"/><circle cx="377" cy="212" r="9.6"/><circle cx="387" cy="222" r="10.7"/><circle cx="292" cy="247" r="11.3"/><circle cx="301" cy="255" r="7.6"/><circle cx="318" cy="283" r="9.1"/><circle cx="323" cy="299" r="8.4"/><circle cx="330" cy="309" r="10.8"/><circle cx="333" cy="321" r="7.4"/><circle cx="348" cy="327" r="6.6"/><circle cx="357" cy="333" r="10.6"/><circle cx="369" cy="338" r="6.7"/><circle cx="408" cy="368" r="8.9"/><circle cx="349" cy="269" r="7.3"/><circle cx="372" cy="301" r="9.5"/><circle cx="397" cy="290" r="9.1"/><circle cx="417" cy="277" r="6.4"/><circle cx="426" cy="297" r="7.0"/><circle cx="433" cy="321" r="7.6"/><circle cx="423" cy="334" r="6.8"/><circle cx="411" cy="358" r="9.8"/><circle cx="436" cy="329" r="8.4"/><circle cx="461" cy="331" r="6.6"/><circle cx="459" cy="346" r="7.0"/><circle cx="458" cy="364" r="9.7"/><circle cx="465" cy="371" r="7.7"/><circle cx="471" cy="389" r="9.0"/><circle cx="477" cy="404" r="8.2"/><circle cx="478" cy="348" r="9.3"/><circle cx="495" cy="349" r="11.8"/><circle cx="506" cy="350" r="9.2"/><circle cx="511" cy="392" r="8.4"/><circle cx="292" cy="282" r="6.5"/><circle cx="206" cy="152" r="10.2"/><circle cx="210" cy="166" r="14.2"/><circle cx="212" cy="180" r="11.5"/></g></g>
<g filter="url(#wob)" opacity="0.95"><g fill="none" stroke="#d3d5db" stroke-linecap="round" stroke-linejoin="round"><path d="M12 10C13 12 15 14 17 21C19 28 21 42 24 50C27 58 29 62 35 68C41 74 50 80 59 86C68 92 82 100 89 104C96 108 98 112 100 113" stroke-width="15"/><path d="M100 113C97 116 89 127 83 133C77 139 73 147 65 151C57 155 44 155 35 157C26 159 14 164 10 165" stroke-width="15"/><path d="M65 130 L85 145" stroke-width="18"/><path d="M100 113C104 112 118 110 124 107C130 104 134 100 136 98" stroke-width="7"/><path d="M130 122C133 125 146 135 148 142C150 149 141 156 142 163C143 170 149 176 154 181C159 186 164 189 171 193C178 197 188 198 195 204C202 210 212 220 213 228C214 236 203 248 201 252" stroke-width="12"/><path d="M148 139C152 135 165 125 171 116C177 107 179 94 183 86C187 78 191 74 195 68C199 62 204 56 207 50C210 44 212 40 213 33C214 26 210 14 210 10" stroke-width="12"/><path d="M205 20C209 22 222 30 230 30C238 30 250 23 254 22" stroke-width="21"/><path d="M213 56C214 63 218 85 219 98C220 111 221 123 222 133C223 143 224 153 225 157" stroke-width="12"/><path d="M171 191C173 194 179 201 183 208C187 215 192 224 195 232C198 240 198 247 198 256C198 265 196 277 195 285C194 293 191 296 189 303C187 310 186 319 183 327C180 335 172 343 171 350C170 357 180 363 177 368C174 373 160 376 154 380C148 384 146 388 142 392C138 396 132 401 130 403" stroke-width="9"/><path d="M98 392 L110 392" stroke-width="10"/><path d="M339 8C340 14 343 35 345 45C347 55 351 59 351 68C351 77 348 89 345 98C342 107 337 115 333 122C329 129 323 136 321 139" stroke-width="14"/><path d="M375 21C380 23 396 28 404 33C412 38 417 46 422 50C427 54 432 56 434 57" stroke-width="12"/><path d="M422 57C421 62 418 77 416 86C414 95 412 104 410 110C408 116 405 122 404 125" stroke-width="12"/><path d="M381 68 L404 74" stroke-width="8"/><path d="M360 181C362 185 365 198 369 204C373 210 384 211 386 216C388 221 385 230 381 234C377 238 366 239 363 240" stroke-width="10"/><path d="M233 220C238 223 252 234 262 238C272 242 282 245 292 244C302 243 311 236 321 232C331 228 342 223 351 220C360 217 369 214 375 214C381 214 384 219 386 220" stroke-width="13"/><path d="M292 244C295 248 305 259 310 268C315 277 317 288 321 297C325 306 325 314 333 321C341 328 359 333 369 339C379 345 385 351 392 356C399 361 407 366 410 368" stroke-width="10"/><path d="M321 256C326 258 344 262 351 268C358 274 359 285 363 291C367 297 369 303 375 303C381 303 391 295 398 291C405 287 411 278 416 279C421 280 425 290 428 297C431 304 435 315 434 321C433 327 426 327 422 333C418 339 412 352 410 356" stroke-width="9"/><path d="M434 327C438 328 454 335 458 333C462 331 460 318 460 315" stroke-width="8"/><path d="M458 333C458 338 456 353 458 362C460 371 466 379 469 386C472 393 474 401 475 404" stroke-width="9"/><path d="M481 350C486 350 504 341 508 348C512 355 508 385 508 392" stroke-width="14"/><path d="M286 262 L292 282" stroke-width="7"/><path d="M205 150C207 158 210 188 215 200C220 212 229 221 232 225" stroke-width="18"/></g><g fill="#d3d5db"><circle cx="15" cy="10" r="10.9"/><circle cx="15" cy="21" r="11.1"/><circle cx="18" cy="34" r="12.7"/><circle cx="25" cy="47" r="12.8"/><circle cx="57" cy="83" r="11.3"/><circle cx="72" cy="93" r="7.2"/><circle cx="89" cy="106" r="10.2"/><circle cx="100" cy="114" r="11.5"/><circle cx="103" cy="116" r="8.8"/><circle cx="64" cy="148" r="8.4"/><circle cx="34" cy="160" r="13.1"/><circle cx="12" cy="165" r="8.3"/><circle cx="86" cy="147" r="9.0"/><circle cx="99" cy="116" r="3.4"/><circle cx="134" cy="95" r="4.0"/><circle cx="139" cy="130" r="8.4"/><circle cx="140" cy="163" r="8.9"/><circle cx="157" cy="183" r="6.7"/><circle cx="169" cy="192" r="10.3"/><circle cx="198" cy="202" r="5.8"/><circle cx="203" cy="215" r="9.6"/><circle cx="213" cy="226" r="5.7"/><circle cx="207" cy="243" r="7.3"/><circle cx="203" cy="250" r="8.5"/><circle cx="150" cy="137" r="10.4"/><circle cx="162" cy="126" r="9.4"/><circle cx="181" cy="83" r="7.6"/><circle cx="206" cy="52" r="9.2"/><circle cx="211" cy="34" r="6.9"/><circle cx="210" cy="12" r="6.5"/><circle cx="208" cy="18" r="12.2"/><circle cx="217" cy="22" r="12.1"/><circle cx="230" cy="28" r="13.1"/><circle cx="257" cy="23" r="18.5"/><circle cx="211" cy="53" r="8.5"/><circle cx="216" cy="73" r="10.4"/><circle cx="217" cy="85" r="8.8"/><circle cx="216" cy="98" r="10.9"/><circle cx="197" cy="234" r="7.3"/><circle cx="200" cy="256" r="7.8"/><circle cx="197" cy="271" r="5.9"/><circle cx="198" cy="287" r="7.1"/><circle cx="183" cy="327" r="7.5"/><circle cx="174" cy="369" r="7.6"/><circle cx="155" cy="380" r="5.2"/><circle cx="141" cy="389" r="8.4"/><circle cx="128" cy="401" r="7.3"/><circle cx="112" cy="391" r="6.9"/><circle cx="339" cy="10" r="7.6"/><circle cx="350" cy="66" r="10.2"/><circle cx="350" cy="84" r="12.0"/><circle cx="339" cy="109" r="7.4"/><circle cx="334" cy="122" r="9.1"/><circle cx="324" cy="139" r="12.0"/><circle cx="377" cy="18" r="5.4"/><circle cx="406" cy="30" r="7.0"/><circle cx="419" cy="52" r="7.8"/><circle cx="431" cy="58" r="6.0"/><circle cx="423" cy="59" r="8.8"/><circle cx="416" cy="84" r="6.3"/><circle cx="411" cy="108" r="7.9"/><circle cx="405" cy="125" r="7.2"/><circle cx="380" cy="70" r="6.7"/><circle cx="361" cy="179" r="9.5"/><circle cx="371" cy="203" r="7.9"/><circle cx="388" cy="219" r="9.2"/><circle cx="379" cy="235" r="8.0"/><circle cx="231" cy="222" r="10.2"/><circle cx="276" cy="243" r="10.7"/><circle cx="306" cy="238" r="6.2"/><circle cx="338" cy="223" r="5.9"/><circle cx="377" cy="212" r="7.8"/><circle cx="387" cy="222" r="9.0"/><circle cx="292" cy="247" r="9.6"/><circle cx="301" cy="255" r="5.8"/><circle cx="318" cy="283" r="7.4"/><circle cx="323" cy="299" r="6.6"/><circle cx="330" cy="309" r="9.1"/><circle cx="333" cy="321" r="5.7"/><circle cx="348" cy="327" r="4.8"/><circle cx="357" cy="333" r="8.8"/><circle cx="369" cy="338" r="5.0"/><circle cx="408" cy="368" r="7.1"/><circle cx="349" cy="269" r="5.6"/><circle cx="372" cy="301" r="7.7"/><circle cx="397" cy="290" r="7.3"/><circle cx="417" cy="277" r="4.6"/><circle cx="426" cy="297" r="5.3"/><circle cx="433" cy="321" r="5.9"/><circle cx="423" cy="334" r="5.1"/><circle cx="411" cy="358" r="8.1"/><circle cx="436" cy="329" r="6.6"/><circle cx="461" cy="331" r="4.9"/><circle cx="459" cy="346" r="5.2"/><circle cx="458" cy="364" r="8.0"/><circle cx="465" cy="371" r="6.0"/><circle cx="471" cy="389" r="7.3"/><circle cx="477" cy="404" r="6.5"/><circle cx="478" cy="348" r="7.5"/><circle cx="495" cy="349" r="10.0"/><circle cx="506" cy="350" r="7.5"/><circle cx="511" cy="392" r="6.6"/><circle cx="292" cy="282" r="4.7"/><circle cx="206" cy="152" r="8.4"/><circle cx="210" cy="166" r="12.5"/><circle cx="212" cy="180" r="9.8"/></g></g>
<ellipse cx="294" cy="178" rx="68" ry="64" fill="#cfd1d7" filter="url(#wob)"/>
<ellipse cx="294" cy="178" rx="65" ry="61" fill="none" stroke="#b7bbc7" stroke-width="2.5" filter="url(#wob2)"/>
<g filter="url(#b1)" opacity="0.65"><circle cx="13" cy="9" r="3.1" fill="#b97f80"/><circle cx="38" cy="70" r="2.8" fill="#b97f80"/><circle cx="44" cy="77" r="2.0" fill="#a9bfd6"/><circle cx="53" cy="78" r="2.4" fill="#7da3c8"/><circle cx="56" cy="87" r="2.6" fill="#7da3c8"/><circle cx="66" cy="89" r="2.7" fill="#b97f80"/><circle cx="71" cy="98" r="2.2" fill="#c7a9a9"/><circle cx="83" cy="98" r="3.1" fill="#c7a9a9"/><circle cx="90" cy="102" r="2.9" fill="#a9bfd6"/><circle cx="100" cy="116" r="2.5" fill="#c7a9a9"/><circle cx="91" cy="119" r="2.7" fill="#7da3c8"/><circle cx="81" cy="134" r="2.2" fill="#7da3c8"/><circle cx="76" cy="135" r="1.8" fill="#8fb0cf"/><circle cx="74" cy="148" r="2.0" fill="#a9bfd6"/><circle cx="62" cy="151" r="2.6" fill="#c7a9a9"/><circle cx="27" cy="157" r="2.9" fill="#7da3c8"/><circle cx="16" cy="159" r="3.0" fill="#a9bfd6"/><circle cx="68" cy="136" r="2.7" fill="#8fb0cf"/><circle cx="81" cy="136" r="2.9" fill="#8fb0cf"/><circle cx="125" cy="106" r="2.8" fill="#c7a9a9"/><circle cx="135" cy="98" r="1.9" fill="#7da3c8"/><circle cx="137" cy="127" r="1.9" fill="#d9dce2"/><circle cx="142" cy="137" r="2.6" fill="#d9dce2"/><circle cx="149" cy="144" r="3.2" fill="#c7a9a9"/><circle cx="145" cy="153" r="2.7" fill="#b97f80"/><circle cx="155" cy="181" r="3.2" fill="#7da3c8"/><circle cx="164" cy="187" r="3.3" fill="#b97f80"/><circle cx="168" cy="191" r="2.6" fill="#dcdfe4"/><circle cx="177" cy="197" r="2.8" fill="#7da3c8"/><circle cx="186" cy="203" r="3.0" fill="#7da3c8"/><circle cx="197" cy="205" r="3.2" fill="#a9bfd6"/><circle cx="205" cy="222" r="2.7" fill="#8fb0cf"/><circle cx="214" cy="230" r="2.1" fill="#a9bfd6"/><circle cx="206" cy="245" r="1.8" fill="#d9dce2"/><circle cx="201" cy="251" r="2.5" fill="#a9bfd6"/><circle cx="149" cy="138" r="2.9" fill="#c7a9a9"/><circle cx="159" cy="125" r="2.2" fill="#7da3c8"/><circle cx="163" cy="124" r="2.1" fill="#b97f80"/><circle cx="172" cy="113" r="1.9" fill="#b97f80"/><circle cx="176" cy="110" r="2.5" fill="#a9bfd6"/><circle cx="181" cy="87" r="2.4" fill="#b97f80"/><circle cx="188" cy="76" r="3.1" fill="#c7a9a9"/><circle cx="199" cy="59" r="2.1" fill="#8fb0cf"/><circle cx="209" cy="52" r="3.0" fill="#a9bfd6"/><circle cx="212" cy="32" r="3.3" fill="#dcdfe4"/><circle cx="210" cy="21" r="3.0" fill="#d9dce2"/><circle cx="208" cy="9" r="2.5" fill="#a9bfd6"/><circle cx="207" cy="19" r="3.1" fill="#8fb0cf"/><circle cx="216" cy="25" r="2.5" fill="#d9dce2"/><circle cx="222" cy="31" r="2.2" fill="#a9bfd6"/><circle cx="229" cy="28" r="2.9" fill="#dcdfe4"/><circle cx="239" cy="24" r="2.1" fill="#a9bfd6"/><circle cx="256" cy="20" r="1.9" fill="#7da3c8"/><circle cx="210" cy="55" r="1.9" fill="#8fb0cf"/><circle cx="217" cy="81" r="2.1" fill="#d9dce2"/><circle cx="218" cy="91" r="2.6" fill="#dcdfe4"/><circle cx="217" cy="100" r="2.8" fill="#b97f80"/><circle cx="225" cy="133" r="3.1" fill="#a9bfd6"/><circle cx="224" cy="140" r="3.3" fill="#dcdfe4"/><circle cx="222" cy="150" r="2.4" fill="#a9bfd6"/><circle cx="225" cy="155" r="3.4" fill="#dcdfe4"/><circle cx="177" cy="200" r="1.8" fill="#8fb0cf"/><circle cx="187" cy="217" r="2.3" fill="#a9bfd6"/><circle cx="194" cy="233" r="3.0" fill="#d9dce2"/><circle cx="198" cy="250" r="2.3" fill="#c7a9a9"/><circle cx="198" cy="258" r="2.4" fill="#8fb0cf"/><circle cx="197" cy="266" r="2.5" fill="#8fb0cf"/><circle cx="195" cy="277" r="3.1" fill="#a9bfd6"/><circle cx="197" cy="284" r="3.0" fill="#a9bfd6"/><circle cx="192" cy="293" r="2.2" fill="#c7a9a9"/><circle cx="190" cy="303" r="2.2" fill="#8fb0cf"/><circle cx="186" cy="319" r="1.9" fill="#d9dce2"/><circle cx="179" cy="337" r="3.1" fill="#b97f80"/><circle cx="174" cy="340" r="3.3" fill="#a9bfd6"/><circle cx="171" cy="349" r="1.9" fill="#a9bfd6"/><circle cx="176" cy="361" r="3.3" fill="#8fb0cf"/><circle cx="175" cy="370" r="2.7" fill="#b97f80"/><circle cx="167" cy="372" r="1.8" fill="#b97f80"/><circle cx="163" cy="375" r="3.1" fill="#c7a9a9"/><circle cx="155" cy="381" r="3.3" fill="#d9dce2"/><circle cx="147" cy="386" r="2.3" fill="#d9dce2"/><circle cx="137" cy="399" r="3.1" fill="#b97f80"/><circle cx="131" cy="402" r="2.9" fill="#7da3c8"/><circle cx="99" cy="391" r="1.9" fill="#d9dce2"/><circle cx="109" cy="393" r="2.9" fill="#d9dce2"/><circle cx="338" cy="6" r="2.1" fill="#7da3c8"/><circle cx="344" cy="20" r="2.8" fill="#dcdfe4"/><circle cx="346" cy="37" r="2.9" fill="#d9dce2"/><circle cx="347" cy="45" r="1.9" fill="#d9dce2"/><circle cx="348" cy="101" r="3.3" fill="#d9dce2"/><circle cx="333" cy="124" r="2.1" fill="#8fb0cf"/><circle cx="377" cy="21" r="3.1" fill="#8fb0cf"/><circle cx="395" cy="31" r="2.7" fill="#b97f80"/><circle cx="401" cy="32" r="1.8" fill="#a9bfd6"/><circle cx="410" cy="38" r="2.4" fill="#a9bfd6"/><circle cx="432" cy="57" r="2.4" fill="#b97f80"/><circle cx="423" cy="59" r="2.7" fill="#7da3c8"/><circle cx="421" cy="66" r="3.4" fill="#d9dce2"/><circle cx="417" cy="76" r="2.0" fill="#a9bfd6"/><circle cx="417" cy="92" r="3.1" fill="#8fb0cf"/><circle cx="409" cy="100" r="3.1" fill="#b97f80"/><circle cx="409" cy="110" r="2.3" fill="#d9dce2"/><circle cx="405" cy="117" r="1.9" fill="#8fb0cf"/><circle cx="403" cy="123" r="2.9" fill="#a9bfd6"/><circle cx="383" cy="66" r="1.9" fill="#a9bfd6"/><circle cx="392" cy="72" r="2.4" fill="#c7a9a9"/><circle cx="363" cy="190" r="2.1" fill="#dcdfe4"/><circle cx="378" cy="212" r="2.4" fill="#dcdfe4"/><circle cx="381" cy="223" r="2.9" fill="#d9dce2"/><circle cx="372" cy="235" r="2.4" fill="#c7a9a9"/><circle cx="365" cy="238" r="2.2" fill="#dcdfe4"/><circle cx="234" cy="220" r="2.7" fill="#c7a9a9"/><circle cx="243" cy="226" r="2.0" fill="#a9bfd6"/><circle cx="250" cy="230" r="2.2" fill="#8fb0cf"/><circle cx="272" cy="241" r="2.4" fill="#7da3c8"/><circle cx="280" cy="244" r="2.5" fill="#dcdfe4"/><circle cx="293" cy="242" r="3.0" fill="#c7a9a9"/><circle cx="302" cy="242" r="2.1" fill="#d9dce2"/><circle cx="308" cy="235" r="2.4" fill="#d9dce2"/><circle cx="324" cy="235" r="2.9" fill="#b97f80"/><circle cx="326" cy="231" r="2.1" fill="#dcdfe4"/><circle cx="342" cy="222" r="3.1" fill="#8fb0cf"/><circle cx="349" cy="219" r="2.2" fill="#b97f80"/><circle cx="367" cy="213" r="2.9" fill="#c7a9a9"/><circle cx="384" cy="222" r="2.8" fill="#b97f80"/><circle cx="291" cy="246" r="2.2" fill="#dcdfe4"/><circle cx="297" cy="250" r="2.8" fill="#dcdfe4"/><circle cx="306" cy="259" r="3.1" fill="#d9dce2"/><circle cx="312" cy="269" r="2.2" fill="#d9dce2"/><circle cx="323" cy="295" r="2.5" fill="#b97f80"/><circle cx="327" cy="304" r="1.8" fill="#c7a9a9"/><circle cx="330" cy="315" r="2.9" fill="#dcdfe4"/><circle cx="334" cy="320" r="2.5" fill="#d9dce2"/><circle cx="346" cy="328" r="2.2" fill="#7da3c8"/><circle cx="353" cy="332" r="3.0" fill="#b97f80"/><circle cx="362" cy="337" r="2.4" fill="#d9dce2"/><circle cx="377" cy="344" r="2.4" fill="#8fb0cf"/><circle cx="392" cy="355" r="2.7" fill="#a9bfd6"/><circle cx="402" cy="362" r="2.9" fill="#b97f80"/><circle cx="410" cy="367" r="2.1" fill="#c7a9a9"/><circle cx="320" cy="256" r="3.2" fill="#c7a9a9"/><circle cx="327" cy="258" r="2.8" fill="#8fb0cf"/><circle cx="350" cy="269" r="2.7" fill="#a9bfd6"/><circle cx="370" cy="296" r="3.0" fill="#7da3c8"/><circle cx="375" cy="305" r="2.5" fill="#c7a9a9"/><circle cx="384" cy="300" r="1.9" fill="#d9dce2"/><circle cx="389" cy="294" r="2.6" fill="#a9bfd6"/><circle cx="396" cy="291" r="2.3" fill="#a9bfd6"/><circle cx="405" cy="283" r="2.1" fill="#7da3c8"/><circle cx="421" cy="289" r="2.3" fill="#d9dce2"/><circle cx="431" cy="304" r="2.3" fill="#b97f80"/><circle cx="436" cy="321" r="2.0" fill="#c7a9a9"/><circle cx="421" cy="332" r="2.3" fill="#8fb0cf"/><circle cx="416" cy="339" r="2.3" fill="#b97f80"/><circle cx="412" cy="348" r="2.4" fill="#8fb0cf"/><circle cx="411" cy="357" r="2.2" fill="#7da3c8"/><circle cx="433" cy="328" r="3.4" fill="#8fb0cf"/><circle cx="442" cy="329" r="2.1" fill="#a9bfd6"/><circle cx="451" cy="332" r="2.8" fill="#c7a9a9"/><circle cx="456" cy="332" r="2.7" fill="#8fb0cf"/><circle cx="458" cy="326" r="3.4" fill="#7da3c8"/><circle cx="457" cy="333" r="3.0" fill="#c7a9a9"/><circle cx="458" cy="353" r="2.3" fill="#d9dce2"/><circle cx="456" cy="361" r="3.2" fill="#a9bfd6"/><circle cx="467" cy="379" r="2.8" fill="#b97f80"/><circle cx="470" cy="384" r="2.6" fill="#dcdfe4"/><circle cx="470" cy="393" r="3.2" fill="#d9dce2"/><circle cx="473" cy="406" r="2.6" fill="#b97f80"/><circle cx="492" cy="349" r="2.2" fill="#7da3c8"/><circle cx="501" cy="346" r="3.2" fill="#8fb0cf"/><circle cx="507" cy="351" r="2.8" fill="#dcdfe4"/><circle cx="508" cy="358" r="3.2" fill="#b97f80"/><circle cx="508" cy="380" r="3.0" fill="#a9bfd6"/><circle cx="509" cy="390" r="3.4" fill="#dcdfe4"/><circle cx="285" cy="263" r="1.9" fill="#8fb0cf"/><circle cx="202" cy="152" r="2.0" fill="#dcdfe4"/><circle cx="209" cy="160" r="2.7" fill="#7da3c8"/><circle cx="207" cy="168" r="3.2" fill="#a9bfd6"/><circle cx="212" cy="174" r="2.0" fill="#8fb0cf"/><circle cx="218" cy="199" r="3.0" fill="#8fb0cf"/><circle cx="224" cy="206" r="3.3" fill="#d9dce2"/><circle cx="227" cy="220" r="3.0" fill="#c7a9a9"/><circle cx="235" cy="223" r="2.0" fill="#8fb0cf"/><circle cx="239" cy="132" r="3.0" fill="#d9dce2"/><circle cx="246" cy="129" r="2.2" fill="#b97f80"/><circle cx="268" cy="133" r="2.8" fill="#a9bfd6"/><circle cx="271" cy="134" r="2.7" fill="#8fb0cf"/><circle cx="293" cy="134" r="2.6" fill="#7da3c8"/><circle cx="318" cy="135" r="2.2" fill="#c7a9a9"/><circle cx="326" cy="135" r="2.6" fill="#8fb0cf"/><circle cx="344" cy="138" r="2.0" fill="#8fb0cf"/><circle cx="348" cy="140" r="2.4" fill="#8fb0cf"/><circle cx="353" cy="160" r="2.6" fill="#8fb0cf"/><circle cx="351" cy="164" r="3.3" fill="#a9bfd6"/><circle cx="350" cy="171" r="3.3" fill="#dcdfe4"/><circle cx="352" cy="185" r="3.2" fill="#a9bfd6"/><circle cx="354" cy="194" r="2.3" fill="#dcdfe4"/><circle cx="356" cy="211" r="2.5" fill="#7da3c8"/><circle cx="357" cy="219" r="3.2" fill="#d9dce2"/><circle cx="352" cy="224" r="1.8" fill="#a9bfd6"/><circle cx="345" cy="223" r="3.0" fill="#7da3c8"/><circle cx="340" cy="226" r="2.8" fill="#b97f80"/><circle cx="321" cy="226" r="2.2" fill="#7da3c8"/><circle cx="304" cy="231" r="2.6" fill="#d9dce2"/><circle cx="297" cy="228" r="2.3" fill="#a9bfd6"/><circle cx="286" cy="232" r="2.9" fill="#d9dce2"/><circle cx="273" cy="232" r="2.5" fill="#d9dce2"/><circle cx="251" cy="232" r="2.9" fill="#8fb0cf"/><circle cx="246" cy="231" r="3.2" fill="#dcdfe4"/><circle cx="241" cy="214" r="3.3" fill="#dcdfe4"/><circle cx="241" cy="206" r="2.2" fill="#dcdfe4"/><circle cx="244" cy="195" r="2.1" fill="#d9dce2"/><circle cx="240" cy="182" r="2.6" fill="#a9bfd6"/><circle cx="239" cy="164" r="2.2" fill="#c7a9a9"/><circle cx="244" cy="158" r="3.1" fill="#b97f80"/><circle cx="243" cy="138" r="1.9" fill="#a9bfd6"/><circle cx="240" cy="133" r="2.2" fill="#c7a9a9"/></g>
<g filter="url(#b1)" opacity="0.85"><circle cx="20" cy="21" r="2.1" fill="#5f86b8"/><circle cx="66" cy="93" r="2.2" fill="#8c3a48"/><circle cx="86" cy="104" r="2.6" fill="#8c3a48"/><circle cx="75" cy="141" r="1.9" fill="#7a2638"/><circle cx="140" cy="163" r="2.0" fill="#7a2638"/><circle cx="184" cy="201" r="1.5" fill="#7a2638"/><circle cx="209" cy="233" r="2.1" fill="#7a2638"/><circle cx="173" cy="119" r="1.4" fill="#7a2638"/><circle cx="182" cy="89" r="1.5" fill="#8c3a48"/><circle cx="199" cy="58" r="2.3" fill="#8c3a48"/><circle cx="206" cy="51" r="2.4" fill="#7a2638"/><circle cx="235" cy="25" r="2.1" fill="#8c3a48"/><circle cx="251" cy="28" r="1.7" fill="#5f86b8"/><circle cx="259" cy="24" r="2.4" fill="#8c3a48"/><circle cx="173" cy="188" r="1.4" fill="#8c3a48"/><circle cx="192" cy="223" r="1.9" fill="#5f86b8"/><circle cx="169" cy="348" r="1.5" fill="#8c3a48"/><circle cx="178" cy="367" r="1.7" fill="#8c3a48"/><circle cx="155" cy="382" r="2.1" fill="#7a2638"/><circle cx="342" cy="31" r="2.4" fill="#5f86b8"/><circle cx="341" cy="36" r="1.7" fill="#8c3a48"/><circle cx="329" cy="121" r="1.9" fill="#8c3a48"/><circle cx="381" cy="24" r="1.5" fill="#5f86b8"/><circle cx="407" cy="41" r="1.8" fill="#5f86b8"/><circle cx="413" cy="47" r="1.7" fill="#8c3a48"/><circle cx="419" cy="47" r="2.2" fill="#7a2638"/><circle cx="418" cy="75" r="1.9" fill="#5f86b8"/><circle cx="417" cy="93" r="1.6" fill="#8c3a48"/><circle cx="368" cy="199" r="1.5" fill="#5f86b8"/><circle cx="371" cy="205" r="2.5" fill="#8c3a48"/><circle cx="388" cy="219" r="2.0" fill="#8c3a48"/><circle cx="252" cy="237" r="2.3" fill="#8c3a48"/><circle cx="262" cy="235" r="2.3" fill="#8c3a48"/><circle cx="292" cy="247" r="1.5" fill="#5f86b8"/><circle cx="310" cy="239" r="2.2" fill="#8c3a48"/><circle cx="317" cy="230" r="2.2" fill="#5f86b8"/><circle cx="350" cy="220" r="1.7" fill="#8c3a48"/><circle cx="383" cy="222" r="2.0" fill="#7a2638"/><circle cx="312" cy="270" r="1.9" fill="#7a2638"/><circle cx="313" cy="279" r="1.7" fill="#7a2638"/><circle cx="335" cy="320" r="1.9" fill="#8c3a48"/><circle cx="370" cy="342" r="2.4" fill="#8c3a48"/><circle cx="349" cy="269" r="2.6" fill="#5f86b8"/><circle cx="358" cy="286" r="1.9" fill="#5f86b8"/><circle cx="374" cy="303" r="2.5" fill="#7a2638"/><circle cx="433" cy="306" r="2.5" fill="#7a2638"/><circle cx="427" cy="326" r="2.6" fill="#5f86b8"/><circle cx="411" cy="348" r="1.9" fill="#5f86b8"/><circle cx="433" cy="326" r="1.8" fill="#7a2638"/><circle cx="459" cy="364" r="2.5" fill="#5f86b8"/><circle cx="509" cy="387" r="1.8" fill="#8c3a48"/><circle cx="287" cy="270" r="2.6" fill="#5f86b8"/><circle cx="212" cy="174" r="2.4" fill="#8c3a48"/><circle cx="231" cy="211" r="1.4" fill="#5f86b8"/></g>
<path d="M247 157C251 154 262 157 270 159C278 161 290 167 298 171C306 175 315 180 319 185C323 190 323 195 321 199C319 203 314 208 308 211C302 214 293 213 286 214C279 215 270 219 264 216C258 213 255 205 252 198C249 191 248 183 247 176C246 169 243 160 247 157Z" fill="#cccacc" stroke="#d0958a" stroke-width="8" stroke-linejoin="round" filter="url(#wob2)"/>
<path d="M247 157C251 154 262 157 270 159C278 161 290 167 298 171C306 175 315 180 319 185C323 190 323 195 321 199C319 203 314 208 308 211C302 214 293 213 286 214C279 215 270 219 264 216C258 213 255 205 252 198C249 191 248 183 247 176C246 169 243 160 247 157Z" fill="none" stroke="#b9655a" stroke-width="2.4" stroke-linejoin="round" opacity="0.6" filter="url(#wob2)"/>
</g>
<g filter="url(#idt)">
<rect x="19.6" y="327.6" width="147.3" height="116.8" fill="none" stroke="#111" stroke-width="1.1"/>
<rect x="192.0" y="327.6" width="148.1" height="116.8" fill="none" stroke="#111" stroke-width="1.1"/>
<rect x="364.8" y="327.6" width="147.8" height="116.8" fill="none" stroke="#111" stroke-width="1.1"/>
<rect x="109.8" y="458.1" width="24.5" height="9.2" fill="#c5203a"/>
<rect x="213.8" y="458.1" width="24.3" height="9.2" fill="#0f5a96"/>
<rect x="363.8" y="458.1" width="24.0" height="9.2" fill="#2fb84f"/>
<text x="136.9" y="465.4" font-size="8.2" textLength="37.6" lengthAdjust="spacingAndGlyphs">Crystalloid</text>
<text x="241.5" y="465.4" font-size="8.2" textLength="99.4" lengthAdjust="spacingAndGlyphs">Crystalloid + rhADAMTS13</text>
<text x="391.9" y="465.4" font-size="8.2" textLength="26.2" lengthAdjust="spacingAndGlyphs">Plasma</text>
</g>
<rect x="0.5" y="0.45" width="519" height="474.1" stroke="#1a1515" stroke-width="1.15" fill="none"/>
</svg>
</body></html>
